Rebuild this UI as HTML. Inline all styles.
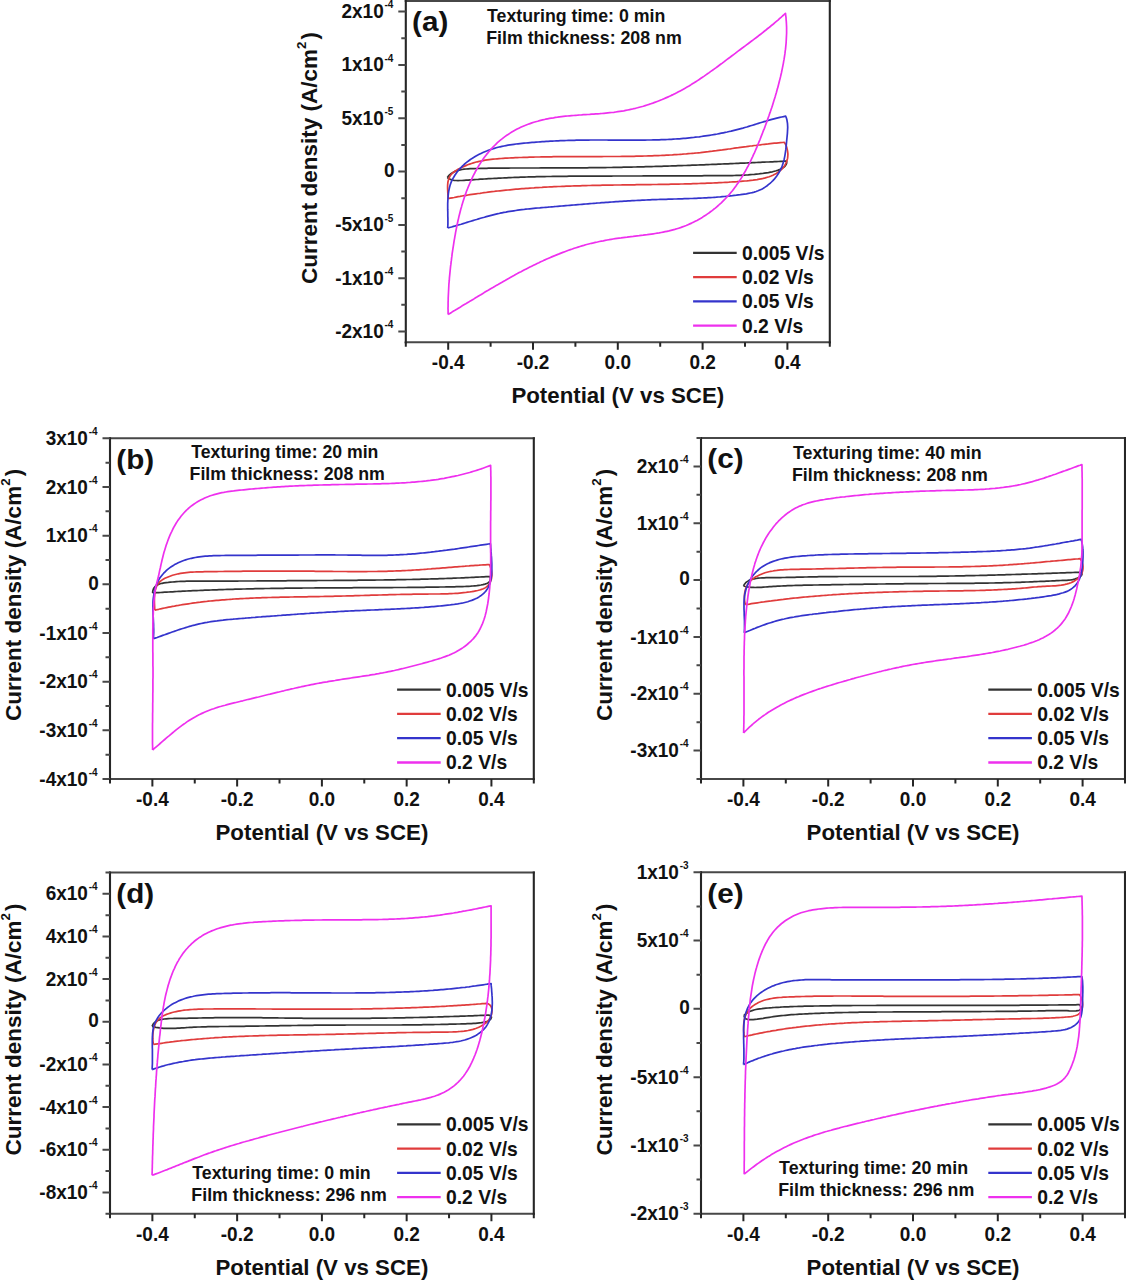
<!DOCTYPE html>
<html><head><meta charset="utf-8"><style>
html,body{margin:0;padding:0;background:#fff;}
svg{display:block;}
text{font-family:"Liberation Sans",sans-serif;font-weight:bold;}
</style></head><body>
<svg width="1126" height="1280" viewBox="0 0 1126 1280">
<rect width="1126" height="1280" fill="#fff"/>
<path d="M447.3 177.5L448.5 175.9L449.8 174.6L451.3 173.4L452.9 172.4L454.6 171.6L456.3 170.9L458.2 170.4L460.1 169.9L462.0 169.5L464.0 169.2L466.0 169.0L468.1 168.8L470.1 168.7L472.2 168.6L474.3 168.6L476.3 168.5L478.4 168.5L480.5 168.4L482.5 168.4L484.6 168.3L486.6 168.3L488.6 168.2L490.6 168.2L492.7 168.2L494.7 168.2L496.7 168.1L498.7 168.1L500.7 168.1L502.7 168.1L504.7 168.1L506.7 168.1L508.7 168.1L510.7 168.0L512.7 168.0L514.7 168.0L516.7 168.0L518.7 168.0L520.8 168.0L522.8 168.0L524.8 168.0L526.8 168.0L528.8 168.0L530.8 168.0L532.8 168.0L534.8 168.0L536.8 168.0L538.8 168.0L540.9 167.9L542.9 167.9L544.9 167.9L546.9 167.9L548.9 167.9L550.9 167.9L552.9 167.9L555.0 167.9L557.0 167.9L559.0 167.9L561.0 167.9L563.0 167.9L565.0 167.9L567.0 167.9L569.1 167.9L571.1 167.9L573.1 167.8L575.1 167.8L577.1 167.8L579.2 167.8L581.2 167.8L583.2 167.8L585.2 167.8L587.2 167.8L589.2 167.7L591.3 167.7L593.3 167.7L595.3 167.7L597.3 167.7L599.3 167.6L601.3 167.6L603.4 167.6L605.4 167.6L607.4 167.5L609.4 167.5L611.4 167.5L613.4 167.4L615.5 167.4L617.5 167.4L619.5 167.3L621.5 167.3L623.5 167.2L625.5 167.2L627.6 167.2L629.6 167.1L631.6 167.1L633.6 167.0L635.6 167.0L637.6 166.9L639.6 166.9L641.7 166.8L643.7 166.8L645.7 166.7L647.7 166.7L649.7 166.6L651.7 166.6L653.7 166.5L655.8 166.4L657.8 166.4L659.8 166.3L661.8 166.3L663.8 166.2L665.8 166.1L667.8 166.1L669.8 166.0L671.9 165.9L673.9 165.9L675.9 165.8L677.9 165.7L679.9 165.7L681.9 165.6L683.9 165.5L686.0 165.5L688.0 165.4L690.0 165.3L692.0 165.2L694.0 165.2L696.0 165.1L698.0 165.0L700.0 164.9L702.1 164.8L704.1 164.8L706.1 164.7L708.1 164.6L710.1 164.5L712.1 164.4L714.1 164.4L716.1 164.3L718.2 164.2L720.2 164.1L722.2 164.0L724.2 163.9L726.2 163.9L728.2 163.8L730.2 163.7L732.2 163.6L734.3 163.5L736.3 163.4L738.3 163.3L740.3 163.2L742.3 163.1L744.3 163.1L746.3 163.0L748.3 162.9L750.4 162.8L752.4 162.7L754.4 162.6L756.4 162.5L758.4 162.4L760.4 162.3L762.4 162.2L764.4 162.1L766.5 162.0L768.5 162.0L770.5 161.9L772.5 161.8L774.5 161.7L776.5 161.6L778.5 161.5L780.6 161.4L782.6 161.3L784.6 161.2L786.6 161.1L786.7 163.0L786.1 164.6L785.1 166.1L783.7 167.3L782.0 168.4L780.1 169.3L778.3 170.1L776.3 170.8L774.4 171.3L772.4 171.8L770.4 172.2L768.4 172.6L766.4 172.9L764.4 173.2L762.4 173.5L760.4 173.7L758.4 174.0L756.4 174.2L754.4 174.4L752.3 174.5L750.3 174.7L748.3 174.9L746.3 175.0L744.3 175.1L742.3 175.2L740.3 175.3L738.3 175.4L736.2 175.4L734.2 175.5L732.2 175.6L730.2 175.6L728.2 175.6L726.2 175.7L724.2 175.7L722.2 175.7L720.1 175.7L718.1 175.7L716.1 175.7L714.1 175.7L712.1 175.7L710.1 175.7L708.1 175.7L706.0 175.7L704.0 175.7L702.0 175.8L700.0 175.8L698.0 175.8L696.0 175.8L694.0 175.8L691.9 175.8L689.9 175.8L687.9 175.8L685.9 175.8L683.9 175.8L681.9 175.8L679.8 175.8L677.8 175.8L675.8 175.8L673.8 175.8L671.8 175.8L669.8 175.8L667.8 175.9L665.7 175.9L663.7 175.9L661.7 175.9L659.7 175.9L657.7 175.9L655.7 175.9L653.6 175.9L651.6 175.9L649.6 175.9L647.6 175.9L645.6 175.9L643.6 175.9L641.6 176.0L639.5 176.0L637.5 176.0L635.5 176.0L633.5 176.0L631.5 176.0L629.5 176.0L627.4 176.0L625.4 176.0L623.4 176.0L621.4 176.0L619.4 176.0L617.4 176.0L615.3 176.0L613.3 176.0L611.3 176.1L609.3 176.1L607.3 176.1L605.3 176.1L603.2 176.1L601.2 176.1L599.2 176.1L597.2 176.1L595.2 176.1L593.2 176.1L591.1 176.1L589.1 176.1L587.1 176.1L585.1 176.1L583.1 176.1L581.0 176.2L579.0 176.2L577.0 176.2L575.0 176.2L573.0 176.2L571.0 176.2L568.9 176.2L566.9 176.3L564.9 176.3L562.9 176.3L560.9 176.3L558.9 176.3L556.9 176.4L554.8 176.4L552.8 176.4L550.8 176.5L548.8 176.5L546.8 176.5L544.8 176.6L542.7 176.6L540.7 176.6L538.7 176.7L536.7 176.7L534.7 176.8L532.7 176.8L530.7 176.9L528.7 176.9L526.7 177.0L524.6 177.1L522.6 177.1L520.6 177.2L518.6 177.3L516.6 177.4L514.6 177.4L512.6 177.5L510.6 177.6L508.6 177.7L506.6 177.8L504.6 177.9L502.5 178.0L500.5 178.1L498.5 178.2L496.5 178.3L494.5 178.4L492.5 178.5L490.5 178.6L488.5 178.7L486.4 178.8L484.4 179.0L482.4 179.1L480.4 179.2L478.3 179.4L476.3 179.5L474.3 179.6L472.2 179.8L470.2 179.9L468.2 180.1L466.1 180.2L464.1 180.3L462.0 180.5L460.0 180.5L458.0 180.6L456.1 180.5L454.1 180.3L452.3 180.0L450.5 179.4L448.8 178.6L447.3 177.5" fill="none" stroke="#333333" stroke-width="1.7" stroke-linejoin="round"/>
<path d="M448.2 198.6L448.1 196.6L447.9 194.6L447.8 192.6L447.7 190.5L447.6 188.4L447.6 186.3L447.7 184.3L447.9 182.3L448.3 180.4L448.9 178.6L449.6 176.8L450.6 175.2L451.8 173.8L453.3 172.5L454.9 171.3L456.6 170.2L458.4 169.1L460.3 168.2L462.1 167.3L464.0 166.4L465.8 165.6L467.7 164.8L469.6 164.1L471.5 163.5L473.4 162.9L475.4 162.3L477.3 161.8L479.2 161.4L481.2 161.0L483.2 160.6L485.1 160.2L487.1 159.9L489.1 159.6L491.1 159.4L493.1 159.2L495.1 159.0L497.1 158.8L499.1 158.6L501.1 158.5L503.1 158.3L505.2 158.2L507.2 158.1L509.2 158.0L511.2 157.9L513.2 157.8L515.2 157.7L517.3 157.6L519.3 157.5L521.3 157.5L523.3 157.4L525.3 157.3L527.3 157.3L529.3 157.2L531.4 157.1L533.4 157.1L535.4 157.0L537.4 157.0L539.4 157.0L541.4 156.9L543.4 156.9L545.5 156.8L547.5 156.8L549.5 156.8L551.5 156.8L553.5 156.7L555.5 156.7L557.5 156.7L559.6 156.7L561.6 156.7L563.6 156.7L565.6 156.6L567.6 156.6L569.6 156.6L571.6 156.6L573.6 156.6L575.7 156.6L577.7 156.6L579.7 156.6L581.7 156.6L583.7 156.6L585.7 156.6L587.7 156.6L589.8 156.6L591.8 156.6L593.8 156.6L595.8 156.6L597.8 156.6L599.8 156.6L601.8 156.6L603.9 156.5L605.9 156.5L607.9 156.5L609.9 156.5L611.9 156.5L613.9 156.5L615.9 156.5L618.0 156.5L620.0 156.5L622.0 156.4L624.0 156.4L626.0 156.4L628.0 156.4L630.1 156.3L632.1 156.3L634.1 156.3L636.1 156.2L638.1 156.2L640.1 156.1L642.2 156.1L644.2 156.0L646.2 156.0L648.2 155.9L650.2 155.9L652.2 155.8L654.2 155.7L656.3 155.6L658.3 155.6L660.3 155.5L662.3 155.4L664.3 155.3L666.3 155.2L668.3 155.1L670.3 155.0L672.4 154.9L674.4 154.7L676.4 154.6L678.4 154.5L680.4 154.3L682.4 154.2L684.4 154.0L686.4 153.9L688.4 153.7L690.4 153.5L692.4 153.3L694.4 153.2L696.4 153.0L698.4 152.8L700.4 152.6L702.4 152.3L704.4 152.1L706.4 151.9L708.4 151.7L710.4 151.4L712.4 151.2L714.4 150.9L716.4 150.7L718.4 150.4L720.4 150.1L722.4 149.9L724.4 149.6L726.4 149.3L728.4 149.0L730.4 148.8L732.4 148.5L734.4 148.2L736.4 147.9L738.4 147.7L740.4 147.4L742.4 147.1L744.4 146.8L746.3 146.6L748.3 146.3L750.3 146.0L752.3 145.8L754.3 145.5L756.3 145.3L758.3 145.0L760.3 144.8L762.3 144.5L764.3 144.3L766.3 144.1L768.3 143.9L770.3 143.6L772.3 143.4L774.4 143.2L776.4 143.1L778.4 142.9L780.4 142.7L782.4 142.5L784.4 142.4L785.4 144.2L786.3 146.1L786.9 148.1L787.4 150.1L787.7 152.1L787.9 154.2L787.8 156.2L787.6 158.2L787.1 160.1L786.5 162.0L785.7 163.7L784.8 165.4L783.7 167.0L782.5 168.5L781.1 169.9L779.6 171.1L778.1 172.3L776.4 173.4L774.7 174.3L772.9 175.2L771.1 176.0L769.2 176.7L767.3 177.3L765.3 177.9L763.3 178.4L761.2 178.8L759.2 179.2L757.1 179.6L755.0 179.9L753.0 180.2L751.0 180.4L748.9 180.7L746.9 180.9L744.9 181.0L742.9 181.2L740.9 181.4L738.9 181.5L736.9 181.7L734.9 181.8L732.9 181.9L730.9 182.0L728.9 182.2L727.0 182.3L725.0 182.4L723.0 182.5L721.0 182.6L719.0 182.7L717.0 182.8L715.0 182.9L713.0 183.0L711.0 183.1L709.0 183.1L707.0 183.2L705.0 183.3L703.0 183.4L701.0 183.4L698.9 183.5L696.9 183.6L694.9 183.6L692.9 183.7L690.9 183.8L688.9 183.8L686.9 183.9L684.9 183.9L682.9 184.0L680.9 184.0L678.9 184.1L676.8 184.1L674.8 184.2L672.8 184.2L670.8 184.2L668.8 184.3L666.8 184.3L664.8 184.3L662.8 184.4L660.7 184.4L658.7 184.4L656.7 184.5L654.7 184.5L652.7 184.5L650.7 184.6L648.7 184.6L646.6 184.6L644.6 184.6L642.6 184.7L640.6 184.7L638.6 184.7L636.6 184.7L634.6 184.8L632.5 184.8L630.5 184.8L628.5 184.9L626.5 184.9L624.5 184.9L622.5 184.9L620.4 185.0L618.4 185.0L616.4 185.0L614.4 185.0L612.4 185.1L610.4 185.1L608.4 185.1L606.3 185.2L604.3 185.2L602.3 185.2L600.3 185.3L598.3 185.3L596.3 185.4L594.3 185.4L592.2 185.4L590.2 185.5L588.2 185.5L586.2 185.6L584.2 185.6L582.2 185.7L580.2 185.8L578.2 185.8L576.1 185.9L574.1 185.9L572.1 186.0L570.1 186.1L568.1 186.1L566.1 186.2L564.1 186.3L562.1 186.4L560.1 186.5L558.0 186.5L556.0 186.6L554.0 186.7L552.0 186.8L550.0 186.9L548.0 187.0L546.0 187.1L544.0 187.2L542.0 187.4L540.0 187.5L538.0 187.6L536.0 187.7L534.0 187.9L532.0 188.0L529.9 188.1L527.9 188.3L525.9 188.4L523.9 188.6L521.9 188.7L519.9 188.9L517.9 189.1L515.9 189.2L513.9 189.4L511.9 189.6L509.9 189.8L507.9 190.0L505.9 190.2L503.9 190.4L501.9 190.6L499.9 190.8L497.9 191.0L495.9 191.2L493.9 191.5L491.9 191.7L490.0 191.9L488.0 192.2L486.0 192.5L484.0 192.7L482.0 193.0L480.0 193.3L478.0 193.5L476.0 193.8L474.0 194.1L472.0 194.4L470.0 194.7L468.0 195.0L466.1 195.4L464.1 195.7L462.1 196.0L460.1 196.4L458.1 196.7L456.1 197.1L454.1 197.5L452.2 197.8L450.2 198.2L448.2 198.6" fill="none" stroke="#e03c3c" stroke-width="1.7" stroke-linejoin="round"/>
<path d="M447.7 228.0L447.8 226.1L447.9 224.1L447.9 222.1L447.9 220.1L447.9 218.1L447.8 216.1L447.8 214.0L447.8 211.9L447.7 209.9L447.7 207.8L447.7 205.7L447.7 203.6L447.8 201.6L447.9 199.5L448.0 197.5L448.2 195.4L448.4 193.4L448.7 191.4L449.1 189.4L449.5 187.5L450.0 185.6L450.6 183.7L451.3 181.9L452.1 180.1L453.0 178.4L454.0 176.7L455.0 175.0L456.1 173.4L457.3 171.8L458.5 170.3L459.8 168.8L461.2 167.3L462.6 165.9L464.1 164.5L465.6 163.2L467.2 161.9L468.8 160.7L470.4 159.5L472.1 158.4L473.9 157.3L475.6 156.2L477.4 155.2L479.2 154.3L481.0 153.4L482.9 152.5L484.8 151.7L486.6 151.0L488.5 150.2L490.4 149.6L492.3 149.0L494.3 148.4L496.2 147.8L498.1 147.3L500.1 146.8L502.0 146.4L504.0 146.0L506.0 145.6L508.0 145.2L510.0 144.9L512.0 144.6L514.0 144.3L516.0 144.0L518.0 143.8L520.0 143.6L522.0 143.4L524.0 143.2L526.0 143.0L528.1 142.8L530.1 142.6L532.1 142.4L534.1 142.3L536.1 142.1L538.2 142.0L540.2 141.8L542.2 141.7L544.2 141.6L546.2 141.4L548.2 141.3L550.2 141.2L552.2 141.1L554.3 141.0L556.3 140.9L558.3 140.8L560.3 140.7L562.3 140.6L564.3 140.6L566.3 140.5L568.3 140.4L570.4 140.4L572.4 140.3L574.4 140.3L576.4 140.2L578.4 140.2L580.4 140.1L582.4 140.1L584.5 140.1L586.5 140.1L588.5 140.1L590.5 140.0L592.5 140.0L594.5 140.0L596.6 140.0L598.6 140.0L600.6 140.0L602.6 140.0L604.6 140.0L606.7 140.0L608.7 140.1L610.7 140.1L612.7 140.1L614.8 140.1L616.8 140.1L618.8 140.1L620.8 140.1L622.8 140.1L624.9 140.1L626.9 140.1L628.9 140.1L630.9 140.1L633.0 140.1L635.0 140.1L637.0 140.1L639.0 140.1L641.0 140.1L643.1 140.1L645.1 140.1L647.1 140.0L649.1 140.0L651.1 140.0L653.2 139.9L655.2 139.9L657.2 139.8L659.2 139.8L661.2 139.7L663.3 139.6L665.3 139.6L667.3 139.5L669.3 139.4L671.3 139.3L673.3 139.1L675.3 139.0L677.3 138.9L679.4 138.8L681.4 138.6L683.4 138.4L685.4 138.3L687.4 138.1L689.4 137.9L691.4 137.7L693.4 137.5L695.4 137.2L697.4 137.0L699.4 136.8L701.4 136.5L703.4 136.2L705.4 135.9L707.4 135.6L709.4 135.3L711.4 135.0L713.4 134.7L715.3 134.3L717.3 134.0L719.3 133.6L721.3 133.2L723.3 132.8L725.2 132.4L727.2 132.0L729.2 131.5L731.2 131.1L733.1 130.6L735.1 130.1L737.0 129.6L739.0 129.1L740.9 128.6L742.9 128.1L744.8 127.5L746.8 127.0L748.7 126.4L750.6 125.8L752.6 125.2L754.5 124.6L756.4 124.0L758.4 123.4L760.3 122.8L762.2 122.2L764.2 121.6L766.1 121.1L768.1 120.5L770.0 119.9L771.9 119.4L773.9 118.9L775.8 118.4L777.8 117.9L779.8 117.4L781.7 117.0L783.7 116.6L785.7 116.2L786.4 118.0L786.9 119.8L787.2 121.6L787.5 123.5L787.6 125.4L787.7 127.4L787.6 129.4L787.5 131.4L787.4 133.4L787.2 135.4L787.0 137.5L786.8 139.5L786.6 141.5L786.4 143.6L786.2 145.6L786.0 147.6L785.8 149.7L785.5 151.7L785.2 153.7L784.9 155.6L784.5 157.6L784.1 159.5L783.6 161.5L783.0 163.4L782.4 165.2L781.7 167.1L780.9 168.9L780.0 170.7L779.0 172.5L777.9 174.2L776.8 175.9L775.6 177.5L774.3 179.1L772.9 180.6L771.5 182.0L770.0 183.4L768.4 184.7L766.8 186.0L765.1 187.1L763.4 188.2L761.7 189.2L759.8 190.0L758.0 190.8L756.1 191.5L754.2 192.1L752.3 192.6L750.3 193.0L748.4 193.4L746.4 193.8L744.4 194.1L742.4 194.4L740.4 194.7L738.4 194.9L736.4 195.2L734.4 195.4L732.4 195.7L730.4 195.9L728.4 196.1L726.4 196.3L724.4 196.5L722.4 196.7L720.4 196.9L718.4 197.0L716.4 197.2L714.4 197.3L712.4 197.5L710.4 197.6L708.4 197.7L706.4 197.8L704.4 197.9L702.4 198.0L700.4 198.1L698.4 198.2L696.3 198.3L694.3 198.4L692.3 198.5L690.3 198.5L688.3 198.6L686.3 198.7L684.3 198.7L682.3 198.8L680.3 198.8L678.2 198.9L676.2 199.0L674.2 199.0L672.2 199.1L670.2 199.1L668.2 199.2L666.2 199.3L664.2 199.3L662.2 199.4L660.1 199.4L658.1 199.5L656.1 199.6L654.1 199.7L652.1 199.7L650.1 199.8L648.1 199.9L646.1 200.0L644.1 200.1L642.1 200.2L640.0 200.3L638.0 200.4L636.0 200.5L634.0 200.6L632.0 200.7L630.0 200.8L628.0 200.9L626.0 201.1L624.0 201.2L622.0 201.3L620.0 201.4L618.0 201.6L616.0 201.7L613.9 201.8L611.9 202.0L609.9 202.1L607.9 202.3L605.9 202.4L603.9 202.6L601.9 202.7L599.9 202.9L597.9 203.0L595.9 203.2L593.9 203.3L591.9 203.5L589.9 203.6L587.9 203.8L585.9 204.0L583.9 204.1L581.9 204.3L579.9 204.5L577.9 204.6L575.8 204.8L573.8 205.0L571.8 205.1L569.8 205.3L567.8 205.5L565.8 205.6L563.8 205.8L561.8 206.0L559.8 206.1L557.8 206.3L555.8 206.5L553.8 206.7L551.8 206.8L549.8 207.0L547.8 207.2L545.8 207.3L543.8 207.5L541.8 207.7L539.8 207.9L537.8 208.0L535.8 208.2L533.7 208.4L531.7 208.6L529.7 208.8L527.7 209.0L525.8 209.2L523.8 209.5L521.8 209.7L519.8 209.9L517.8 210.2L515.8 210.5L513.8 210.8L511.8 211.1L509.8 211.4L507.9 211.7L505.9 212.1L503.9 212.4L501.9 212.8L500.0 213.2L498.0 213.7L496.1 214.1L494.1 214.6L492.2 215.1L490.2 215.6L488.3 216.1L486.3 216.6L484.4 217.2L482.4 217.7L480.5 218.3L478.6 218.9L476.6 219.5L474.7 220.0L472.8 220.6L470.8 221.2L468.9 221.8L467.0 222.4L465.1 223.0L463.1 223.6L461.2 224.2L459.3 224.7L457.3 225.3L455.4 225.9L453.5 226.4L451.6 227.0L449.6 227.5L447.7 228.0" fill="none" stroke="#3434cc" stroke-width="1.7" stroke-linejoin="round"/>
<path d="M448.1 314.4L448.1 312.4L448.1 310.4L448.0 308.3L448.1 306.3L448.1 304.3L448.1 302.3L448.2 300.3L448.2 298.3L448.3 296.3L448.4 294.2L448.5 292.2L448.6 290.2L448.7 288.2L448.8 286.2L448.9 284.2L449.1 282.2L449.3 280.2L449.4 278.2L449.6 276.2L449.8 274.2L450.0 272.2L450.2 270.2L450.4 268.2L450.6 266.2L450.9 264.2L451.1 262.2L451.4 260.2L451.6 258.2L451.9 256.2L452.1 254.2L452.4 252.2L452.7 250.2L453.0 248.2L453.3 246.3L453.6 244.3L453.9 242.3L454.2 240.3L454.6 238.3L454.9 236.3L455.3 234.3L455.6 232.4L456.0 230.4L456.4 228.4L456.8 226.4L457.2 224.5L457.6 222.5L458.0 220.5L458.5 218.6L458.9 216.6L459.4 214.7L459.9 212.7L460.4 210.8L460.9 208.8L461.5 206.9L462.0 204.9L462.6 203.0L463.2 201.1L463.8 199.2L464.4 197.3L465.1 195.3L465.8 193.4L466.4 191.5L467.2 189.7L467.9 187.8L468.7 185.9L469.5 184.0L470.3 182.2L471.1 180.3L472.0 178.5L472.8 176.6L473.7 174.8L474.7 173.0L475.6 171.2L476.6 169.5L477.6 167.7L478.6 166.0L479.7 164.3L480.8 162.6L481.9 160.9L483.0 159.2L484.2 157.6L485.4 156.0L486.6 154.4L487.9 152.9L489.1 151.3L490.5 149.8L491.8 148.3L493.2 146.9L494.6 145.5L496.0 144.1L497.4 142.7L498.9 141.4L500.4 140.1L502.0 138.9L503.6 137.6L505.2 136.4L506.8 135.3L508.5 134.2L510.1 133.1L511.8 132.0L513.6 131.0L515.3 130.1L517.1 129.1L518.9 128.2L520.7 127.3L522.5 126.5L524.4 125.7L526.2 125.0L528.1 124.3L530.0 123.6L531.9 122.9L533.8 122.3L535.7 121.7L537.7 121.2L539.6 120.6L541.6 120.1L543.6 119.7L545.5 119.2L547.5 118.8L549.5 118.4L551.5 118.1L553.5 117.8L555.5 117.4L557.5 117.2L559.5 116.9L561.5 116.6L563.5 116.4L565.5 116.2L567.5 116.0L569.5 115.8L571.5 115.6L573.6 115.5L575.6 115.3L577.6 115.2L579.6 115.0L581.6 114.9L583.7 114.7L585.7 114.6L587.7 114.5L589.7 114.4L591.7 114.2L593.8 114.1L595.8 113.9L597.8 113.8L599.8 113.7L601.8 113.5L603.8 113.3L605.8 113.1L607.8 112.9L609.8 112.7L611.8 112.5L613.8 112.3L615.8 112.0L617.8 111.7L619.8 111.4L621.8 111.1L623.8 110.8L625.7 110.4L627.7 110.0L629.7 109.6L631.6 109.2L633.6 108.7L635.5 108.3L637.5 107.8L639.4 107.2L641.3 106.7L643.3 106.2L645.2 105.6L647.1 105.0L649.0 104.4L650.9 103.7L652.8 103.1L654.7 102.4L656.5 101.7L658.4 101.0L660.3 100.2L662.1 99.5L664.0 98.7L665.8 97.9L667.7 97.1L669.5 96.3L671.3 95.4L673.1 94.6L674.9 93.7L676.7 92.8L678.5 91.8L680.2 90.9L682.0 89.9L683.8 88.9L685.5 88.0L687.2 86.9L689.0 85.9L690.7 84.9L692.4 83.8L694.1 82.8L695.8 81.7L697.5 80.6L699.2 79.5L700.9 78.3L702.5 77.2L704.2 76.1L705.9 74.9L707.5 73.8L709.2 72.6L710.8 71.4L712.5 70.3L714.1 69.1L715.8 67.9L717.4 66.7L719.0 65.5L720.6 64.3L722.3 63.1L723.9 61.9L725.5 60.6L727.1 59.4L728.7 58.2L730.4 57.0L732.0 55.8L733.6 54.6L735.2 53.4L736.8 52.1L738.4 50.9L740.0 49.7L741.6 48.5L743.3 47.3L744.9 46.1L746.5 44.9L748.1 43.7L749.7 42.5L751.3 41.3L752.9 40.1L754.5 38.9L756.1 37.7L757.7 36.5L759.3 35.2L760.9 34.0L762.4 32.8L764.0 31.5L765.6 30.3L767.1 29.0L768.7 27.8L770.3 26.5L771.8 25.2L773.4 24.0L774.9 22.7L776.4 21.4L778.0 20.1L779.5 18.7L781.0 17.4L782.5 16.0L784.0 14.7L785.5 13.3L785.7 15.3L786.0 17.3L786.1 19.3L786.3 21.3L786.4 23.2L786.5 25.2L786.6 27.2L786.6 29.2L786.6 31.2L786.6 33.2L786.5 35.2L786.4 37.2L786.3 39.2L786.2 41.2L786.1 43.2L785.9 45.2L785.7 47.2L785.5 49.2L785.2 51.2L785.0 53.2L784.7 55.2L784.4 57.2L784.1 59.2L783.7 61.2L783.4 63.1L783.0 65.1L782.6 67.1L782.2 69.1L781.8 71.0L781.4 73.0L780.9 75.0L780.5 76.9L780.0 78.9L779.5 80.8L779.0 82.8L778.5 84.7L778.0 86.7L777.5 88.6L776.9 90.5L776.4 92.5L775.8 94.4L775.3 96.3L774.7 98.2L774.1 100.1L773.5 102.0L772.9 103.9L772.3 105.9L771.7 107.8L771.0 109.7L770.4 111.6L769.7 113.4L769.1 115.3L768.4 117.2L767.7 119.1L767.1 121.0L766.4 122.9L765.7 124.8L765.0 126.7L764.3 128.6L763.5 130.4L762.8 132.3L762.1 134.2L761.3 136.1L760.6 138.0L759.9 139.8L759.1 141.7L758.3 143.6L757.6 145.5L756.8 147.3L756.0 149.2L755.2 151.0L754.4 152.9L753.5 154.7L752.7 156.6L751.8 158.4L751.0 160.2L750.1 162.1L749.2 163.9L748.3 165.7L747.3 167.4L746.4 169.2L745.4 171.0L744.4 172.7L743.4 174.5L742.4 176.2L741.4 177.9L740.3 179.6L739.2 181.3L738.1 182.9L736.9 184.6L735.8 186.2L734.6 187.8L733.4 189.4L732.2 191.0L730.9 192.5L729.6 194.1L728.3 195.6L726.9 197.0L725.6 198.5L724.2 199.9L722.7 201.4L721.3 202.8L719.8 204.1L718.3 205.5L716.8 206.8L715.3 208.1L713.7 209.3L712.1 210.6L710.5 211.8L708.9 213.0L707.2 214.1L705.6 215.2L703.9 216.3L702.2 217.4L700.5 218.4L698.7 219.4L697.0 220.4L695.2 221.3L693.4 222.2L691.6 223.1L689.8 223.9L688.0 224.7L686.2 225.5L684.3 226.2L682.4 226.9L680.5 227.6L678.7 228.2L676.8 228.8L674.8 229.4L672.9 229.9L671.0 230.4L669.0 230.9L667.1 231.3L665.1 231.7L663.2 232.1L661.2 232.5L659.2 232.9L657.2 233.2L655.2 233.5L653.3 233.8L651.3 234.1L649.3 234.4L647.2 234.7L645.2 234.9L643.2 235.2L641.2 235.4L639.2 235.7L637.2 235.9L635.2 236.1L633.2 236.4L631.1 236.6L629.1 236.8L627.1 237.1L625.1 237.3L623.1 237.6L621.1 237.9L619.1 238.1L617.1 238.4L615.1 238.7L613.1 239.0L611.2 239.3L609.2 239.7L607.2 240.0L605.2 240.4L603.3 240.8L601.3 241.1L599.4 241.5L597.4 242.0L595.4 242.4L593.5 242.9L591.5 243.3L589.6 243.8L587.7 244.3L585.7 244.8L583.8 245.4L581.9 245.9L580.0 246.5L578.0 247.1L576.1 247.7L574.2 248.3L572.3 249.0L570.4 249.6L568.5 250.3L566.6 251.0L564.8 251.7L562.9 252.4L561.0 253.1L559.1 253.9L557.3 254.6L555.4 255.4L553.6 256.1L551.7 256.9L549.9 257.7L548.0 258.5L546.2 259.3L544.4 260.1L542.6 261.0L540.7 261.8L538.9 262.7L537.1 263.5L535.3 264.4L533.5 265.3L531.7 266.2L529.9 267.1L528.1 268.0L526.3 268.9L524.5 269.8L522.7 270.8L521.0 271.7L519.2 272.6L517.4 273.6L515.6 274.5L513.9 275.5L512.1 276.5L510.3 277.5L508.6 278.4L506.8 279.4L505.1 280.4L503.3 281.4L501.6 282.4L499.8 283.4L498.1 284.4L496.3 285.4L494.6 286.5L492.9 287.5L491.1 288.5L489.4 289.5L487.7 290.6L485.9 291.6L484.2 292.6L482.5 293.7L480.8 294.7L479.0 295.7L477.3 296.8L475.6 297.8L473.9 298.9L472.1 299.9L470.4 300.9L468.7 302.0L467.0 303.0L465.3 304.1L463.5 305.1L461.8 306.1L460.1 307.2L458.4 308.2L456.7 309.3L455.0 310.3L453.2 311.3L451.5 312.4L449.8 313.4L448.1 314.4" fill="none" stroke="#ee30ee" stroke-width="1.7" stroke-linejoin="round"/>
<path d="M404.70 0.9H830.90M404.70 342.2H830.90" stroke="#474747" stroke-width="2" fill="none"/>
<path d="M405.8 -0.09999999999999998V343.2M829.8 -0.09999999999999998V343.2" stroke="#262626" stroke-width="2.1" fill="none"/>
<path d="M398.30 11.57H405.8M398.30 64.89H405.8M398.30 118.22H405.8M398.30 171.55H405.8M398.30 224.88H405.8M398.30 278.21H405.8M398.30 331.53H405.8M401.30 38.23H405.8M401.30 91.56H405.8M401.30 144.89H405.8M401.30 198.21H405.8M401.30 251.54H405.8M401.30 304.87H405.8" stroke="#474747" stroke-width="2" fill="none"/>
<path d="M448.20 342.2V349.70M533.00 342.2V349.70M617.80 342.2V349.70M702.60 342.2V349.70M787.40 342.2V349.70M405.80 342.2V346.70M490.60 342.2V346.70M575.40 342.2V346.70M660.20 342.2V346.70M745.00 342.2V346.70M829.80 342.2V346.70" stroke="#262626" stroke-width="2" fill="none"/>
<text transform="translate(393.40,18.17) scale(1,1.04)" font-size="19" text-anchor="end" fill="#111">2x10<tspan font-size="10" dy="-9.6" dx="0.8">-4</tspan></text>
<text transform="translate(393.40,71.49) scale(1,1.04)" font-size="19" text-anchor="end" fill="#111">1x10<tspan font-size="10" dy="-9.6" dx="0.8">-4</tspan></text>
<text transform="translate(393.40,124.82) scale(1,1.04)" font-size="19" text-anchor="end" fill="#111">5x10<tspan font-size="10" dy="-9.6" dx="0.8">-5</tspan></text>
<text transform="translate(394.50,176.75) scale(1,1.04)" font-size="19" text-anchor="end" fill="#111">0</text>
<text transform="translate(393.40,231.48) scale(1,1.04)" font-size="19" text-anchor="end" fill="#111">-5x10<tspan font-size="10" dy="-9.6" dx="0.8">-5</tspan></text>
<text transform="translate(393.40,284.81) scale(1,1.04)" font-size="19" text-anchor="end" fill="#111">-1x10<tspan font-size="10" dy="-9.6" dx="0.8">-4</tspan></text>
<text transform="translate(393.40,338.13) scale(1,1.04)" font-size="19" text-anchor="end" fill="#111">-2x10<tspan font-size="10" dy="-9.6" dx="0.8">-4</tspan></text>
<text transform="translate(448.20,369.00) scale(1,1.04)" font-size="19" text-anchor="middle" fill="#111">-0.4</text>
<text transform="translate(533.00,369.00) scale(1,1.04)" font-size="19" text-anchor="middle" fill="#111">-0.2</text>
<text transform="translate(617.80,369.00) scale(1,1.04)" font-size="19" text-anchor="middle" fill="#111">0.0</text>
<text transform="translate(702.60,369.00) scale(1,1.04)" font-size="19" text-anchor="middle" fill="#111">0.2</text>
<text transform="translate(787.40,369.00) scale(1,1.04)" font-size="19" text-anchor="middle" fill="#111">0.4</text>
<text transform="translate(617.80,403.20) scale(0.99,1)" font-size="22.5" text-anchor="middle" fill="#111">Potential (V vs SCE)</text>
<text transform="translate(316.60,284.10) rotate(-90)" font-size="22.5" fill="#111">Current density (A/cm<tspan font-size="13.3" dy="-10.7">2</tspan><tspan dy="10.7" dx="2.2">)</tspan></text>
<text transform="translate(412.10,31.10) scale(1.04,1)" font-size="28.5" fill="#111">(a)</text>
<text transform="translate(487.02,21.50) scale(0.9868,1)" font-size="18" fill="#111">Texturing time: 0 min</text>
<text transform="translate(486.24,43.60) scale(0.9875,1)" font-size="18" fill="#111">Film thickness: 208 nm</text>
<line x1="693.10" y1="252.80" x2="736.70" y2="252.80" stroke="#333333" stroke-width="2.3"/>
<text x="742.00" y="259.70" font-size="19.3" fill="#111">0.005 V/s</text>
<line x1="693.10" y1="277.10" x2="736.70" y2="277.10" stroke="#e03c3c" stroke-width="2.3"/>
<text x="742.00" y="284.00" font-size="19.3" fill="#111">0.02 V/s</text>
<line x1="693.10" y1="301.40" x2="736.70" y2="301.40" stroke="#3434cc" stroke-width="2.3"/>
<text x="742.00" y="308.30" font-size="19.3" fill="#111">0.05 V/s</text>
<line x1="693.10" y1="325.70" x2="736.70" y2="325.70" stroke="#ee30ee" stroke-width="2.3"/>
<text x="742.00" y="332.60" font-size="19.3" fill="#111">0.2 V/s</text>
<path d="M152.6 593.0L152.8 590.9L153.4 589.0L154.3 587.5L155.4 586.3L156.8 585.3L158.4 584.4L160.2 583.8L162.1 583.3L164.1 582.9L166.2 582.6L168.3 582.4L170.3 582.1L172.4 582.0L174.4 581.8L176.5 581.6L178.5 581.5L180.6 581.4L182.6 581.4L184.7 581.3L186.7 581.2L188.7 581.2L190.7 581.2L192.8 581.2L194.8 581.2L196.8 581.2L198.9 581.2L200.9 581.2L202.9 581.2L204.9 581.2L206.9 581.2L209.0 581.2L211.0 581.1L213.0 581.1L215.0 581.1L217.1 581.1L219.1 581.1L221.1 581.1L223.1 581.1L225.2 581.1L227.2 581.1L229.2 581.1L231.2 581.1L233.2 581.1L235.3 581.1L237.3 581.1L239.3 581.0L241.3 581.0L243.4 581.0L245.4 581.0L247.4 581.0L249.4 581.0L251.4 581.0L253.5 581.0L255.5 581.0L257.5 580.9L259.5 580.9L261.6 580.9L263.6 580.9L265.6 580.9L267.6 580.9L269.6 580.9L271.7 580.9L273.7 580.8L275.7 580.8L277.7 580.8L279.7 580.8L281.8 580.8L283.8 580.8L285.8 580.8L287.8 580.7L289.8 580.7L291.9 580.7L293.9 580.7L295.9 580.7L297.9 580.7L300.0 580.7L302.0 580.7L304.0 580.6L306.0 580.6L308.0 580.6L310.1 580.6L312.1 580.6L314.1 580.6L316.1 580.6L318.1 580.5L320.2 580.5L322.2 580.5L324.2 580.5L326.2 580.5L328.3 580.5L330.3 580.5L332.3 580.5L334.3 580.4L336.3 580.4L338.4 580.4L340.4 580.4L342.4 580.4L344.4 580.4L346.5 580.4L348.5 580.3L350.5 580.3L352.5 580.3L354.6 580.3L356.6 580.3L358.6 580.2L360.6 580.2L362.6 580.2L364.7 580.2L366.7 580.2L368.7 580.1L370.7 580.1L372.8 580.1L374.8 580.1L376.8 580.0L378.8 580.0L380.8 580.0L382.9 580.0L384.9 579.9L386.9 579.9L388.9 579.9L391.0 579.8L393.0 579.8L395.0 579.8L397.0 579.7L399.1 579.7L401.1 579.7L403.1 579.6L405.1 579.6L407.1 579.5L409.2 579.5L411.2 579.5L413.2 579.4L415.2 579.4L417.3 579.3L419.3 579.3L421.3 579.2L423.3 579.2L425.3 579.1L427.4 579.1L429.4 579.0L431.4 578.9L433.4 578.9L435.5 578.8L437.5 578.8L439.5 578.7L441.5 578.6L443.5 578.6L445.6 578.5L447.6 578.4L449.6 578.4L451.6 578.3L453.6 578.2L455.7 578.1L457.7 578.0L459.7 578.0L461.7 577.9L463.7 577.8L465.8 577.7L467.8 577.6L469.8 577.5L471.8 577.4L473.8 577.3L475.9 577.2L477.9 577.1L479.9 577.0L481.9 576.9L483.9 576.8L486.0 576.7L488.0 576.6L490.0 576.5L490.4 578.6L490.2 580.3L489.5 581.6L488.3 582.7L486.7 583.5L484.9 584.1L482.9 584.6L480.9 585.0L478.9 585.3L476.8 585.6L474.8 585.8L472.7 586.0L470.7 586.2L468.7 586.3L466.6 586.4L464.6 586.5L462.5 586.6L460.5 586.6L458.4 586.7L456.4 586.7L454.4 586.8L452.3 586.8L450.3 586.9L448.3 586.9L446.3 586.9L444.2 587.0L442.2 587.0L440.2 587.0L438.2 587.1L436.2 587.1L434.2 587.1L432.2 587.2L430.2 587.2L428.2 587.2L426.2 587.2L424.1 587.3L422.1 587.3L420.1 587.3L418.1 587.3L416.1 587.4L414.1 587.4L412.1 587.4L410.1 587.4L408.1 587.4L406.1 587.5L404.1 587.5L402.1 587.5L400.1 587.5L398.1 587.5L396.1 587.5L394.0 587.5L392.0 587.6L390.0 587.6L388.0 587.6L386.0 587.6L384.0 587.6L382.0 587.6L380.0 587.6L378.0 587.6L375.9 587.7L373.9 587.7L371.9 587.7L369.9 587.7L367.9 587.7L365.9 587.7L363.9 587.7L361.8 587.7L359.8 587.7L357.8 587.7L355.8 587.7L353.8 587.7L351.8 587.8L349.8 587.8L347.7 587.8L345.7 587.8L343.7 587.8L341.7 587.8L339.7 587.8L337.7 587.8L335.7 587.8L333.6 587.8L331.6 587.8L329.6 587.9L327.6 587.9L325.6 587.9L323.6 587.9L321.6 587.9L319.5 587.9L317.5 587.9L315.5 587.9L313.5 588.0L311.5 588.0L309.5 588.0L307.5 588.0L305.4 588.0L303.4 588.0L301.4 588.1L299.4 588.1L297.4 588.1L295.4 588.1L293.4 588.1L291.3 588.2L289.3 588.2L287.3 588.2L285.3 588.2L283.3 588.3L281.3 588.3L279.3 588.3L277.3 588.3L275.2 588.4L273.2 588.4L271.2 588.4L269.2 588.5L267.2 588.5L265.2 588.5L263.2 588.6L261.2 588.6L259.1 588.7L257.1 588.7L255.1 588.7L253.1 588.8L251.1 588.8L249.1 588.9L247.1 588.9L245.1 589.0L243.0 589.0L241.0 589.1L239.0 589.1L237.0 589.2L235.0 589.2L233.0 589.3L231.0 589.3L229.0 589.4L227.0 589.4L224.9 589.5L222.9 589.6L220.9 589.6L218.9 589.7L216.9 589.8L214.9 589.8L212.9 589.9L210.9 590.0L208.9 590.1L206.9 590.1L204.8 590.2L202.8 590.3L200.8 590.4L198.8 590.5L196.8 590.6L194.8 590.6L192.8 590.7L190.8 590.8L188.8 590.9L186.8 591.0L184.7 591.1L182.7 591.2L180.7 591.3L178.7 591.4L176.7 591.5L174.7 591.6L172.7 591.8L170.7 591.9L168.7 592.0L166.7 592.1L164.7 592.2L162.6 592.3L160.6 592.5L158.6 592.6L156.6 592.7L154.6 592.9L152.6 593.0" fill="none" stroke="#333333" stroke-width="1.7" stroke-linejoin="round"/>
<path d="M154.8 610.2L154.7 608.3L154.6 606.3L154.5 604.2L154.4 602.1L154.4 600.0L154.4 597.9L154.5 595.8L154.7 593.7L154.9 591.7L155.4 589.7L155.9 587.9L156.7 586.1L157.6 584.5L158.7 583.0L160.0 581.6L161.5 580.4L163.2 579.3L164.9 578.3L166.8 577.5L168.7 576.7L170.6 576.0L172.5 575.3L174.5 574.8L176.5 574.3L178.4 573.8L180.4 573.4L182.4 573.1L184.4 572.8L186.4 572.6L188.4 572.4L190.4 572.2L192.4 572.1L194.5 572.0L196.5 571.9L198.5 571.8L200.5 571.8L202.6 571.8L204.6 571.7L206.6 571.7L208.6 571.7L210.7 571.6L212.7 571.6L214.7 571.6L216.8 571.6L218.8 571.5L220.8 571.5L222.8 571.5L224.9 571.4L226.9 571.4L228.9 571.4L230.9 571.4L232.9 571.3L235.0 571.3L237.0 571.3L239.0 571.3L241.0 571.3L243.1 571.2L245.1 571.2L247.1 571.2L249.1 571.2L251.1 571.2L253.2 571.2L255.2 571.1L257.2 571.1L259.2 571.1L261.2 571.1L263.2 571.1L265.3 571.1L267.3 571.1L269.3 571.1L271.3 571.1L273.3 571.1L275.4 571.1L277.4 571.1L279.4 571.1L281.4 571.1L283.4 571.1L285.4 571.1L287.5 571.1L289.5 571.1L291.5 571.1L293.5 571.1L295.5 571.1L297.6 571.1L299.6 571.1L301.6 571.1L303.6 571.1L305.6 571.2L307.7 571.2L309.7 571.2L311.7 571.2L313.7 571.2L315.7 571.3L317.8 571.3L319.8 571.3L321.8 571.3L323.8 571.3L325.8 571.4L327.9 571.4L329.9 571.4L331.9 571.4L333.9 571.5L336.0 571.5L338.0 571.5L340.0 571.5L342.0 571.5L344.0 571.5L346.1 571.5L348.1 571.6L350.1 571.6L352.1 571.6L354.2 571.6L356.2 571.6L358.2 571.6L360.2 571.6L362.2 571.6L364.3 571.6L366.3 571.6L368.3 571.5L370.3 571.5L372.4 571.5L374.4 571.5L376.4 571.5L378.4 571.4L380.4 571.4L382.5 571.3L384.5 571.3L386.5 571.3L388.5 571.2L390.5 571.1L392.6 571.1L394.6 571.0L396.6 570.9L398.6 570.9L400.6 570.8L402.6 570.7L404.7 570.6L406.7 570.5L408.7 570.4L410.7 570.3L412.7 570.1L414.7 570.0L416.8 569.9L418.8 569.8L420.8 569.6L422.8 569.5L424.8 569.3L426.8 569.2L428.8 569.0L430.9 568.9L432.9 568.7L434.9 568.6L436.9 568.4L438.9 568.3L440.9 568.1L442.9 567.9L444.9 567.8L447.0 567.6L449.0 567.4L451.0 567.3L453.0 567.1L455.0 566.9L457.0 566.8L459.0 566.6L461.1 566.5L463.1 566.3L465.1 566.2L467.1 566.0L469.1 565.9L471.1 565.7L473.2 565.6L475.2 565.4L477.2 565.3L479.2 565.2L481.2 565.0L483.2 564.9L485.3 564.8L487.3 564.7L489.3 564.6L490.3 566.6L491.0 568.6L491.5 570.7L491.8 572.8L491.9 574.9L491.7 577.0L491.4 579.0L490.8 580.8L490.1 582.6L489.1 584.2L487.9 585.6L486.6 586.9L485.0 587.9L483.3 588.7L481.5 589.4L479.6 590.0L477.7 590.5L475.7 590.9L473.7 591.3L471.7 591.7L469.6 592.0L467.6 592.2L465.6 592.5L463.6 592.7L461.6 592.9L459.6 593.1L457.6 593.3L455.5 593.4L453.5 593.5L451.5 593.6L449.5 593.7L447.5 593.8L445.5 593.8L443.5 593.9L441.4 593.9L439.4 594.0L437.4 594.0L435.4 594.0L433.4 594.0L431.4 594.0L429.4 594.0L427.4 594.1L425.3 594.1L423.3 594.1L421.3 594.1L419.3 594.1L417.3 594.2L415.3 594.2L413.3 594.2L411.3 594.3L409.2 594.3L407.2 594.3L405.2 594.4L403.2 594.4L401.2 594.4L399.2 594.5L397.2 594.5L395.2 594.6L393.2 594.6L391.2 594.7L389.2 594.7L387.2 594.8L385.1 594.8L383.1 594.9L381.1 595.0L379.1 595.0L377.1 595.1L375.1 595.1L373.1 595.2L371.1 595.2L369.1 595.3L367.1 595.4L365.1 595.4L363.1 595.5L361.0 595.5L359.0 595.6L357.0 595.7L355.0 595.7L353.0 595.8L351.0 595.8L349.0 595.9L347.0 595.9L345.0 596.0L343.0 596.0L341.0 596.1L338.9 596.1L336.9 596.2L334.9 596.2L332.9 596.3L330.9 596.3L328.9 596.4L326.9 596.4L324.9 596.4L322.8 596.5L320.8 596.5L318.8 596.6L316.8 596.6L314.8 596.6L312.8 596.7L310.8 596.7L308.8 596.7L306.7 596.8L304.7 596.8L302.7 596.8L300.7 596.8L298.7 596.9L296.7 596.9L294.7 596.9L292.6 597.0L290.6 597.0L288.6 597.1L286.6 597.1L284.6 597.1L282.6 597.2L280.6 597.2L278.5 597.3L276.5 597.3L274.5 597.4L272.5 597.4L270.5 597.5L268.5 597.5L266.5 597.6L264.4 597.6L262.4 597.7L260.4 597.8L258.4 597.8L256.4 597.9L254.4 598.0L252.4 598.1L250.4 598.2L248.4 598.3L246.4 598.4L244.3 598.5L242.3 598.6L240.3 598.7L238.3 598.8L236.3 598.9L234.3 599.0L232.3 599.2L230.3 599.3L228.3 599.5L226.3 599.6L224.3 599.8L222.3 599.9L220.3 600.1L218.3 600.3L216.3 600.4L214.3 600.6L212.3 600.8L210.3 601.0L208.3 601.2L206.3 601.5L204.3 601.7L202.3 601.9L200.3 602.2L198.3 602.4L196.3 602.7L194.4 602.9L192.4 603.2L190.4 603.5L188.4 603.8L186.4 604.1L184.4 604.4L182.4 604.7L180.5 605.0L178.5 605.4L176.5 605.7L174.5 606.1L172.5 606.4L170.6 606.8L168.6 607.2L166.6 607.6L164.6 608.0L162.7 608.4L160.7 608.8L158.7 609.3L156.8 609.7L154.8 610.2" fill="none" stroke="#e03c3c" stroke-width="1.7" stroke-linejoin="round"/>
<path d="M153.3 638.8L153.5 636.9L153.6 634.9L153.7 632.9L153.7 630.9L153.7 629.0L153.6 626.9L153.6 624.9L153.5 622.9L153.4 620.9L153.3 618.8L153.2 616.8L153.1 614.7L153.1 612.7L153.0 610.6L153.0 608.5L152.9 606.5L153.0 604.4L153.0 602.4L153.1 600.3L153.3 598.3L153.6 596.3L153.9 594.3L154.2 592.3L154.7 590.4L155.2 588.5L155.8 586.6L156.5 584.7L157.2 582.9L158.1 581.2L159.0 579.4L160.0 577.8L161.2 576.2L162.4 574.7L163.7 573.2L165.1 571.8L166.5 570.4L168.0 569.1L169.6 567.9L171.2 566.8L172.9 565.7L174.6 564.6L176.4 563.7L178.2 562.8L180.0 562.0L181.8 561.2L183.7 560.5L185.6 559.9L187.5 559.3L189.4 558.8L191.4 558.3L193.3 557.9L195.3 557.5L197.3 557.2L199.3 556.9L201.3 556.6L203.3 556.4L205.3 556.2L207.4 556.1L209.4 555.9L211.5 555.8L213.5 555.7L215.6 555.7L217.6 555.6L219.7 555.6L221.7 555.5L223.7 555.5L225.8 555.4L227.8 555.4L229.8 555.4L231.9 555.4L233.9 555.4L235.9 555.3L237.9 555.3L239.9 555.3L241.9 555.3L243.9 555.3L245.9 555.3L247.9 555.3L249.9 555.3L251.9 555.3L253.9 555.3L255.9 555.3L257.9 555.2L259.9 555.2L261.9 555.2L263.9 555.2L265.9 555.2L267.9 555.2L269.9 555.2L271.8 555.2L273.8 555.2L275.8 555.2L277.8 555.2L279.8 555.2L281.8 555.2L283.9 555.2L285.9 555.1L287.9 555.1L289.9 555.1L291.9 555.1L293.9 555.1L295.9 555.1L297.9 555.1L299.9 555.0L302.0 555.0L304.0 555.0L306.0 555.0L308.0 555.0L310.0 555.0L312.0 555.0L314.1 555.0L316.1 554.9L318.1 554.9L320.1 554.9L322.1 554.9L324.2 554.9L326.2 554.9L328.2 554.9L330.2 554.9L332.2 554.9L334.3 554.9L336.3 555.0L338.3 555.0L340.3 555.0L342.3 555.0L344.3 555.0L346.4 555.0L348.4 555.1L350.4 555.1L352.4 555.1L354.4 555.2L356.4 555.2L358.4 555.2L360.5 555.2L362.5 555.3L364.5 555.3L366.5 555.3L368.5 555.3L370.5 555.3L372.5 555.3L374.5 555.4L376.5 555.4L378.5 555.3L380.5 555.3L382.5 555.3L384.5 555.3L386.6 555.3L388.6 555.2L390.6 555.2L392.6 555.1L394.6 555.0L396.6 554.9L398.6 554.9L400.6 554.7L402.6 554.6L404.6 554.5L406.6 554.4L408.6 554.2L410.6 554.1L412.6 553.9L414.6 553.8L416.6 553.6L418.6 553.4L420.6 553.2L422.6 553.0L424.6 552.8L426.6 552.6L428.6 552.4L430.6 552.2L432.6 551.9L434.6 551.7L436.6 551.4L438.6 551.2L440.6 550.9L442.6 550.7L444.6 550.4L446.6 550.2L448.6 549.9L450.6 549.6L452.6 549.3L454.6 549.1L456.6 548.8L458.6 548.5L460.6 548.2L462.6 547.9L464.6 547.6L466.6 547.3L468.6 547.0L470.5 546.7L472.5 546.4L474.5 546.1L476.5 545.8L478.5 545.5L480.5 545.2L482.5 544.9L484.5 544.6L486.4 544.3L488.4 544.0L490.4 543.7L490.6 545.6L490.7 547.5L490.9 549.4L491.0 551.4L491.2 553.4L491.3 555.4L491.5 557.4L491.6 559.5L491.7 561.5L491.8 563.6L491.8 565.7L491.8 567.8L491.8 569.9L491.7 572.0L491.6 574.0L491.4 576.1L491.1 578.1L490.7 580.1L490.3 582.0L489.7 583.9L489.0 585.7L488.2 587.4L487.3 589.1L486.2 590.6L485.0 592.0L483.7 593.4L482.2 594.6L480.7 595.8L479.0 596.9L477.3 597.9L475.5 598.8L473.6 599.6L471.7 600.4L469.7 601.0L467.8 601.7L465.8 602.2L463.8 602.7L461.8 603.2L459.8 603.5L457.8 603.9L455.8 604.2L453.8 604.5L451.8 604.7L449.8 605.0L447.8 605.2L445.8 605.4L443.8 605.6L441.8 605.8L439.8 606.0L437.8 606.2L435.8 606.4L433.8 606.6L431.8 606.7L429.8 606.9L427.8 607.1L425.8 607.2L423.8 607.4L421.8 607.5L419.8 607.6L417.8 607.8L415.8 607.9L413.7 608.0L411.7 608.1L409.7 608.3L407.7 608.4L405.7 608.5L403.7 608.6L401.7 608.7L399.7 608.8L397.7 608.9L395.7 609.0L393.7 609.1L391.7 609.2L389.6 609.3L387.6 609.4L385.6 609.4L383.6 609.5L381.6 609.6L379.6 609.7L377.6 609.8L375.6 609.9L373.6 610.0L371.5 610.0L369.5 610.1L367.5 610.2L365.5 610.3L363.5 610.4L361.5 610.5L359.5 610.6L357.5 610.6L355.5 610.7L353.5 610.8L351.4 610.9L349.4 611.0L347.4 611.1L345.4 611.2L343.4 611.3L341.4 611.4L339.4 611.5L337.4 611.6L335.4 611.8L333.4 611.9L331.4 612.0L329.4 612.1L327.3 612.2L325.3 612.3L323.3 612.5L321.3 612.6L319.3 612.7L317.3 612.8L315.3 613.0L313.3 613.1L311.3 613.2L309.3 613.4L307.3 613.5L305.3 613.6L303.3 613.8L301.3 613.9L299.2 614.0L297.2 614.2L295.2 614.3L293.2 614.5L291.2 614.6L289.2 614.8L287.2 614.9L285.2 615.1L283.2 615.2L281.2 615.4L279.2 615.5L277.2 615.7L275.2 615.8L273.2 616.0L271.2 616.1L269.1 616.3L267.1 616.4L265.1 616.6L263.1 616.7L261.1 616.9L259.1 617.0L257.1 617.2L255.1 617.4L253.1 617.5L251.1 617.7L249.1 617.8L247.1 618.0L245.0 618.2L243.0 618.3L241.0 618.5L239.0 618.6L237.0 618.8L235.0 619.0L233.0 619.2L231.0 619.3L229.0 619.5L227.0 619.7L225.0 619.9L223.0 620.2L221.0 620.4L219.0 620.6L217.0 620.9L215.0 621.1L213.0 621.4L211.0 621.7L209.1 622.0L207.1 622.4L205.1 622.7L203.1 623.1L201.2 623.5L199.2 623.9L197.3 624.4L195.3 624.9L193.4 625.3L191.4 625.9L189.5 626.4L187.6 627.0L185.6 627.6L183.7 628.2L181.8 628.8L179.9 629.4L178.0 630.0L176.0 630.7L174.1 631.4L172.2 632.0L170.3 632.7L168.4 633.4L166.5 634.1L164.6 634.8L162.7 635.4L160.9 636.1L159.0 636.8L157.1 637.5L155.2 638.1L153.3 638.8" fill="none" stroke="#3434cc" stroke-width="1.7" stroke-linejoin="round"/>
<path d="M152.6 750.0L152.6 748.0L152.6 746.0L152.5 744.0L152.5 742.0L152.5 739.9L152.5 737.9L152.5 735.9L152.5 733.9L152.5 731.9L152.5 729.9L152.5 727.9L152.5 725.9L152.5 723.9L152.6 721.9L152.6 719.8L152.6 717.8L152.6 715.8L152.6 713.8L152.7 711.8L152.7 709.8L152.7 707.8L152.7 705.8L152.7 703.8L152.8 701.8L152.8 699.8L152.8 697.8L152.8 695.7L152.8 693.7L152.9 691.7L152.9 689.7L152.9 687.7L152.9 685.7L152.9 683.7L152.9 681.7L152.9 679.7L153.0 677.7L153.0 675.7L153.0 673.6L153.0 671.6L153.0 669.6L153.0 667.6L152.9 665.6L152.9 663.6L152.9 661.6L152.9 659.6L152.9 657.6L152.9 655.5L152.9 653.5L152.8 651.5L152.8 649.5L152.8 647.5L152.8 645.5L152.8 643.5L152.8 641.4L152.8 639.4L152.8 637.4L152.8 635.4L152.8 633.4L152.8 631.4L152.8 629.4L152.9 627.4L152.9 625.4L152.9 623.4L153.0 621.4L153.0 619.3L153.1 617.3L153.2 615.3L153.3 613.3L153.3 611.3L153.4 609.3L153.5 607.3L153.7 605.3L153.8 603.3L153.9 601.3L154.1 599.3L154.3 597.3L154.5 595.4L154.7 593.4L155.0 591.4L155.3 589.4L155.7 587.5L156.1 585.5L156.6 583.6L157.1 581.6L157.6 579.7L158.1 577.7L158.6 575.8L159.0 573.8L159.4 571.9L159.8 569.9L160.3 568.0L160.7 566.0L161.1 564.1L161.6 562.1L162.0 560.2L162.5 558.2L163.0 556.2L163.5 554.3L164.0 552.3L164.6 550.4L165.2 548.5L165.8 546.5L166.4 544.6L167.1 542.7L167.8 540.8L168.5 538.9L169.2 537.1L170.0 535.2L170.8 533.4L171.7 531.6L172.5 529.8L173.4 528.0L174.4 526.2L175.4 524.5L176.4 522.8L177.5 521.1L178.6 519.5L179.8 517.9L181.0 516.3L182.3 514.8L183.6 513.3L184.9 511.8L186.3 510.4L187.8 509.0L189.3 507.7L190.8 506.4L192.4 505.2L194.1 504.0L195.8 502.9L197.5 501.8L199.3 500.7L201.1 499.8L202.9 498.9L204.7 498.0L206.6 497.2L208.5 496.5L210.3 495.8L212.2 495.2L214.1 494.6L216.1 494.1L218.0 493.6L219.9 493.1L221.9 492.7L223.8 492.4L225.8 492.0L227.8 491.7L229.8 491.4L231.7 491.1L233.7 490.9L235.7 490.6L237.7 490.4L239.7 490.2L241.7 490.0L243.7 489.8L245.7 489.6L247.7 489.4L249.7 489.2L251.7 489.0L253.7 488.8L255.7 488.6L257.7 488.5L259.7 488.3L261.7 488.1L263.7 488.0L265.7 487.8L267.7 487.6L269.8 487.5L271.8 487.3L273.8 487.2L275.8 487.1L277.8 486.9L279.8 486.8L281.8 486.7L283.8 486.6L285.8 486.4L287.8 486.3L289.8 486.2L291.8 486.1L293.8 486.0L295.8 485.9L297.8 485.8L299.9 485.7L301.9 485.7L303.9 485.6L305.9 485.5L307.9 485.4L309.9 485.3L311.9 485.3L313.9 485.2L315.9 485.1L317.9 485.1L319.9 485.0L321.9 485.0L323.9 484.9L325.9 484.9L328.0 484.8L330.0 484.8L332.0 484.7L334.0 484.7L336.0 484.6L338.0 484.6L340.0 484.5L342.0 484.5L344.0 484.5L346.0 484.4L348.0 484.4L350.0 484.3L352.1 484.3L354.1 484.3L356.1 484.2L358.1 484.2L360.1 484.2L362.1 484.1L364.1 484.1L366.1 484.1L368.1 484.0L370.2 484.0L372.2 484.0L374.2 483.9L376.2 483.9L378.2 483.8L380.2 483.8L382.2 483.7L384.2 483.7L386.2 483.6L388.3 483.6L390.3 483.5L392.3 483.4L394.3 483.3L396.3 483.2L398.3 483.1L400.3 483.0L402.3 482.9L404.3 482.8L406.3 482.7L408.3 482.5L410.3 482.4L412.3 482.2L414.3 482.1L416.3 481.9L418.3 481.7L420.3 481.5L422.3 481.3L424.3 481.1L426.3 480.9L428.3 480.6L430.3 480.4L432.3 480.1L434.3 479.8L436.3 479.6L438.3 479.3L440.2 478.9L442.2 478.6L444.2 478.3L446.2 477.9L448.1 477.5L450.1 477.1L452.1 476.7L454.0 476.3L456.0 475.9L458.0 475.5L459.9 475.0L461.9 474.5L463.8 474.0L465.7 473.5L467.7 473.0L469.6 472.5L471.6 471.9L473.5 471.3L475.4 470.7L477.3 470.1L479.2 469.5L481.1 468.9L483.0 468.2L484.9 467.5L486.8 466.8L488.7 466.1L490.6 465.4L490.7 467.4L490.7 469.4L490.8 471.4L490.8 473.5L490.8 475.5L490.9 477.5L490.9 479.5L490.9 481.5L490.9 483.5L490.9 485.5L490.9 487.5L490.9 489.5L490.9 491.5L490.9 493.6L490.9 495.6L490.9 497.6L490.9 499.6L490.8 501.6L490.8 503.6L490.8 505.6L490.8 507.6L490.8 509.6L490.7 511.6L490.7 513.7L490.7 515.7L490.7 517.7L490.7 519.7L490.6 521.7L490.6 523.7L490.6 525.7L490.6 527.7L490.6 529.7L490.6 531.7L490.6 533.7L490.6 535.7L490.6 537.8L490.6 539.8L490.6 541.8L490.6 543.8L490.6 545.8L490.6 547.8L490.6 549.8L490.6 551.8L490.7 553.8L490.7 555.8L490.7 557.9L490.7 559.9L490.7 561.9L490.7 563.9L490.6 565.9L490.6 567.9L490.6 569.9L490.5 571.9L490.5 573.9L490.4 575.9L490.3 577.9L490.2 580.0L490.1 582.0L490.0 584.0L489.8 586.0L489.7 588.0L489.5 590.0L489.3 592.0L489.1 594.0L488.8 596.0L488.6 598.0L488.3 600.0L488.0 602.0L487.7 604.0L487.3 606.0L486.9 608.0L486.5 610.0L486.1 612.0L485.6 614.0L485.1 615.9L484.5 617.9L483.9 619.8L483.2 621.7L482.5 623.6L481.7 625.4L480.9 627.2L480.0 629.0L479.1 630.7L478.1 632.4L477.0 634.0L475.9 635.6L474.6 637.1L473.4 638.6L472.0 640.0L470.7 641.4L469.2 642.7L467.7 644.0L466.2 645.3L464.6 646.5L463.0 647.6L461.3 648.7L459.6 649.8L457.9 650.8L456.2 651.8L454.4 652.7L452.6 653.5L450.7 654.4L448.9 655.2L447.0 655.9L445.1 656.6L443.2 657.3L441.2 658.0L439.3 658.6L437.3 659.2L435.4 659.8L433.4 660.4L431.5 661.0L429.5 661.5L427.5 662.1L425.5 662.6L423.6 663.1L421.6 663.7L419.7 664.2L417.7 664.7L415.8 665.2L413.8 665.7L411.9 666.2L409.9 666.7L408.0 667.2L406.1 667.7L404.1 668.2L402.2 668.7L400.2 669.1L398.3 669.6L396.4 670.0L394.4 670.5L392.5 670.9L390.5 671.3L388.6 671.7L386.6 672.1L384.7 672.5L382.7 672.9L380.7 673.2L378.7 673.6L376.8 673.9L374.8 674.3L372.8 674.6L370.8 674.9L368.9 675.3L366.9 675.6L364.9 675.9L362.9 676.2L360.9 676.5L358.9 676.8L356.9 677.1L354.9 677.4L352.9 677.7L351.0 678.0L349.0 678.3L347.0 678.6L345.0 678.9L343.0 679.2L341.0 679.5L339.0 679.8L337.0 680.1L335.0 680.5L333.0 680.8L331.0 681.1L329.0 681.4L327.1 681.8L325.1 682.1L323.1 682.4L321.1 682.8L319.1 683.2L317.2 683.5L315.2 683.9L313.2 684.3L311.2 684.7L309.3 685.1L307.3 685.5L305.3 685.9L303.4 686.3L301.4 686.7L299.5 687.2L297.5 687.6L295.6 688.0L293.6 688.5L291.6 688.9L289.7 689.4L287.7 689.8L285.8 690.3L283.8 690.8L281.9 691.2L279.9 691.7L278.0 692.2L276.0 692.6L274.1 693.1L272.1 693.6L270.2 694.1L268.2 694.5L266.3 695.0L264.3 695.5L262.4 696.0L260.4 696.5L258.5 697.0L256.5 697.4L254.5 697.9L252.6 698.4L250.6 698.9L248.7 699.3L246.7 699.8L244.8 700.3L242.8 700.8L240.8 701.2L238.9 701.7L236.9 702.2L234.9 702.7L233.0 703.1L231.0 703.6L229.1 704.1L227.1 704.6L225.2 705.2L223.2 705.7L221.3 706.3L219.4 706.8L217.5 707.4L215.6 708.0L213.7 708.7L211.8 709.3L209.9 710.0L208.1 710.7L206.2 711.5L204.4 712.3L202.6 713.1L200.8 713.9L199.0 714.8L197.2 715.7L195.5 716.7L193.7 717.7L192.0 718.7L190.3 719.7L188.6 720.8L186.9 721.9L185.3 723.1L183.6 724.2L182.0 725.4L180.4 726.6L178.7 727.9L177.1 729.1L175.5 730.4L174.0 731.7L172.4 733.0L170.8 734.3L169.3 735.6L167.7 736.9L166.2 738.2L164.7 739.5L163.1 740.9L161.6 742.2L160.1 743.5L158.6 744.8L157.1 746.1L155.6 747.4L154.1 748.7L152.6 750.0" fill="none" stroke="#ee30ee" stroke-width="1.7" stroke-linejoin="round"/>
<path d="M108.90 438.3H534.90M108.90 779H534.90" stroke="#474747" stroke-width="2" fill="none"/>
<path d="M110 437.3V780M533.8 437.3V780" stroke="#262626" stroke-width="2.1" fill="none"/>
<path d="M102.50 438.30H110M102.50 486.97H110M102.50 535.64H110M102.50 584.31H110M102.50 632.99H110M102.50 681.66H110M102.50 730.33H110M102.50 779.00H110M105.50 462.64H110M105.50 511.31H110M105.50 559.98H110M105.50 608.65H110M105.50 657.32H110M105.50 705.99H110M105.50 754.66H110" stroke="#474747" stroke-width="2" fill="none"/>
<path d="M152.38 779V786.50M237.14 779V786.50M321.90 779V786.50M406.66 779V786.50M491.42 779V786.50M110.00 779V783.50M194.76 779V783.50M279.52 779V783.50M364.28 779V783.50M449.04 779V783.50M533.80 779V783.50" stroke="#262626" stroke-width="2" fill="none"/>
<text transform="translate(97.60,444.90) scale(1,1.04)" font-size="19" text-anchor="end" fill="#111">3x10<tspan font-size="10" dy="-9.6" dx="0.8">-4</tspan></text>
<text transform="translate(97.60,493.57) scale(1,1.04)" font-size="19" text-anchor="end" fill="#111">2x10<tspan font-size="10" dy="-9.6" dx="0.8">-4</tspan></text>
<text transform="translate(97.60,542.24) scale(1,1.04)" font-size="19" text-anchor="end" fill="#111">1x10<tspan font-size="10" dy="-9.6" dx="0.8">-4</tspan></text>
<text transform="translate(98.70,589.51) scale(1,1.04)" font-size="19" text-anchor="end" fill="#111">0</text>
<text transform="translate(97.60,639.59) scale(1,1.04)" font-size="19" text-anchor="end" fill="#111">-1x10<tspan font-size="10" dy="-9.6" dx="0.8">-4</tspan></text>
<text transform="translate(97.60,688.26) scale(1,1.04)" font-size="19" text-anchor="end" fill="#111">-2x10<tspan font-size="10" dy="-9.6" dx="0.8">-4</tspan></text>
<text transform="translate(97.60,736.93) scale(1,1.04)" font-size="19" text-anchor="end" fill="#111">-3x10<tspan font-size="10" dy="-9.6" dx="0.8">-4</tspan></text>
<text transform="translate(97.60,785.60) scale(1,1.04)" font-size="19" text-anchor="end" fill="#111">-4x10<tspan font-size="10" dy="-9.6" dx="0.8">-4</tspan></text>
<text transform="translate(152.38,805.80) scale(1,1.04)" font-size="19" text-anchor="middle" fill="#111">-0.4</text>
<text transform="translate(237.14,805.80) scale(1,1.04)" font-size="19" text-anchor="middle" fill="#111">-0.2</text>
<text transform="translate(321.90,805.80) scale(1,1.04)" font-size="19" text-anchor="middle" fill="#111">0.0</text>
<text transform="translate(406.66,805.80) scale(1,1.04)" font-size="19" text-anchor="middle" fill="#111">0.2</text>
<text transform="translate(491.42,805.80) scale(1,1.04)" font-size="19" text-anchor="middle" fill="#111">0.4</text>
<text transform="translate(321.90,840.00) scale(0.99,1)" font-size="22.5" text-anchor="middle" fill="#111">Potential (V vs SCE)</text>
<text transform="translate(20.80,720.90) rotate(-90)" font-size="22.5" fill="#111">Current density (A/cm<tspan font-size="13.3" dy="-10.7">2</tspan><tspan dy="10.7" dx="2.2">)</tspan></text>
<text transform="translate(116.30,468.50) scale(1.04,1)" font-size="28.5" fill="#111">(b)</text>
<text transform="translate(191.32,457.70) scale(0.9813,1)" font-size="18" fill="#111">Texturing time: 20 min</text>
<text transform="translate(189.55,480.30) scale(0.9865,1)" font-size="18" fill="#111">Film thickness: 208 nm</text>
<line x1="397.10" y1="689.60" x2="440.70" y2="689.60" stroke="#333333" stroke-width="2.3"/>
<text x="446.00" y="696.50" font-size="19.3" fill="#111">0.005 V/s</text>
<line x1="397.10" y1="713.90" x2="440.70" y2="713.90" stroke="#e03c3c" stroke-width="2.3"/>
<text x="446.00" y="720.80" font-size="19.3" fill="#111">0.02 V/s</text>
<line x1="397.10" y1="738.20" x2="440.70" y2="738.20" stroke="#3434cc" stroke-width="2.3"/>
<text x="446.00" y="745.10" font-size="19.3" fill="#111">0.05 V/s</text>
<line x1="397.10" y1="762.50" x2="440.70" y2="762.50" stroke="#ee30ee" stroke-width="2.3"/>
<text x="446.00" y="769.40" font-size="19.3" fill="#111">0.2 V/s</text>
<path d="M743.5 586.0L744.5 584.2L745.7 582.7L747.1 581.6L748.7 580.6L750.4 579.9L752.3 579.3L754.1 578.8L756.1 578.5L758.0 578.2L760.0 578.0L762.1 577.9L764.1 577.8L766.2 577.7L768.3 577.7L770.3 577.7L772.4 577.6L774.5 577.6L776.5 577.6L778.6 577.6L780.6 577.6L782.7 577.5L784.7 577.5L786.7 577.4L788.8 577.4L790.8 577.4L792.8 577.3L794.8 577.3L796.8 577.2L798.8 577.2L800.9 577.1L802.9 577.1L804.9 577.0L806.9 577.0L808.9 576.9L810.9 576.9L812.9 576.9L814.9 576.8L816.9 576.8L818.9 576.7L820.9 576.7L822.9 576.7L824.9 576.7L826.9 576.6L828.9 576.6L831.0 576.6L833.0 576.6L835.0 576.6L837.0 576.6L839.0 576.5L841.0 576.5L843.0 576.5L845.0 576.5L847.1 576.5L849.1 576.5L851.1 576.5L853.1 576.5L855.1 576.5L857.1 576.5L859.2 576.5L861.2 576.5L863.2 576.5L865.2 576.5L867.2 576.5L869.3 576.5L871.3 576.5L873.3 576.5L875.3 576.5L877.3 576.5L879.4 576.5L881.4 576.5L883.4 576.5L885.4 576.5L887.4 576.5L889.5 576.5L891.5 576.5L893.5 576.5L895.5 576.5L897.5 576.5L899.6 576.5L901.6 576.5L903.6 576.5L905.6 576.5L907.6 576.5L909.7 576.5L911.7 576.5L913.7 576.5L915.7 576.5L917.7 576.5L919.7 576.4L921.8 576.4L923.8 576.4L925.8 576.4L927.8 576.4L929.8 576.3L931.9 576.3L933.9 576.3L935.9 576.3L937.9 576.2L939.9 576.2L941.9 576.2L944.0 576.1L946.0 576.1L948.0 576.1L950.0 576.0L952.0 576.0L954.0 576.0L956.1 575.9L958.1 575.9L960.1 575.9L962.1 575.8L964.1 575.8L966.1 575.7L968.1 575.7L970.2 575.7L972.2 575.6L974.2 575.6L976.2 575.5L978.2 575.5L980.2 575.4L982.3 575.4L984.3 575.3L986.3 575.3L988.3 575.2L990.3 575.2L992.3 575.1L994.3 575.1L996.4 575.0L998.4 574.9L1000.4 574.9L1002.4 574.8L1004.4 574.8L1006.4 574.7L1008.4 574.7L1010.5 574.6L1012.5 574.5L1014.5 574.5L1016.5 574.4L1018.5 574.4L1020.5 574.3L1022.5 574.2L1024.6 574.2L1026.6 574.1L1028.6 574.0L1030.6 574.0L1032.6 573.9L1034.6 573.8L1036.7 573.8L1038.7 573.7L1040.7 573.6L1042.7 573.6L1044.7 573.5L1046.7 573.4L1048.7 573.4L1050.8 573.3L1052.8 573.2L1054.8 573.2L1056.8 573.1L1058.8 573.0L1060.8 572.9L1062.9 572.9L1064.9 572.8L1066.9 572.7L1068.9 572.7L1070.9 572.6L1072.9 572.5L1075.0 572.4L1077.0 572.4L1079.0 572.3L1081.3 573.0L1082.0 574.0L1081.6 575.1L1080.4 576.4L1078.6 577.5L1076.7 578.4L1074.7 579.1L1072.7 579.6L1070.7 579.9L1068.7 580.1L1066.6 580.3L1064.6 580.3L1062.6 580.4L1060.6 580.5L1058.5 580.6L1056.5 580.7L1054.5 580.8L1052.5 580.9L1050.4 581.0L1048.4 581.1L1046.4 581.2L1044.4 581.3L1042.3 581.4L1040.3 581.4L1038.3 581.5L1036.3 581.6L1034.3 581.7L1032.2 581.8L1030.2 581.9L1028.2 582.0L1026.2 582.0L1024.2 582.1L1022.1 582.2L1020.1 582.3L1018.1 582.3L1016.1 582.4L1014.1 582.5L1012.0 582.5L1010.0 582.6L1008.0 582.6L1006.0 582.7L1004.0 582.7L1001.9 582.8L999.9 582.8L997.9 582.9L995.9 582.9L993.9 583.0L991.8 583.0L989.8 583.0L987.8 583.1L985.8 583.1L983.8 583.1L981.7 583.2L979.7 583.2L977.7 583.2L975.7 583.2L973.6 583.3L971.6 583.3L969.6 583.3L967.6 583.3L965.6 583.3L963.5 583.3L961.5 583.4L959.5 583.4L957.5 583.4L955.4 583.4L953.4 583.4L951.4 583.4L949.4 583.4L947.4 583.4L945.3 583.5L943.3 583.5L941.3 583.5L939.3 583.5L937.2 583.5L935.2 583.5L933.2 583.5L931.2 583.5L929.2 583.5L927.1 583.6L925.1 583.6L923.1 583.6L921.1 583.6L919.0 583.6L917.0 583.6L915.0 583.6L913.0 583.7L910.9 583.7L908.9 583.7L906.9 583.7L904.9 583.7L902.9 583.8L900.8 583.8L898.8 583.8L896.8 583.8L894.8 583.8L892.7 583.9L890.7 583.9L888.7 583.9L886.7 583.9L884.6 584.0L882.6 584.0L880.6 584.0L878.6 584.0L876.6 584.1L874.5 584.1L872.5 584.1L870.5 584.2L868.5 584.2L866.4 584.2L864.4 584.2L862.4 584.3L860.4 584.3L858.4 584.3L856.3 584.4L854.3 584.4L852.3 584.4L850.3 584.4L848.3 584.5L846.2 584.5L844.2 584.5L842.2 584.6L840.2 584.6L838.1 584.6L836.1 584.7L834.1 584.7L832.1 584.7L830.1 584.8L828.0 584.8L826.0 584.8L824.0 584.9L822.0 584.9L820.0 584.9L817.9 585.0L815.9 585.0L813.9 585.0L811.9 585.1L809.9 585.1L807.8 585.1L805.8 585.2L803.8 585.2L801.8 585.3L799.8 585.3L797.7 585.4L795.7 585.4L793.7 585.5L791.7 585.6L789.6 585.6L787.6 585.7L785.6 585.8L783.6 585.9L781.5 586.0L779.5 586.1L777.5 586.2L775.5 586.3L773.4 586.4L771.4 586.6L769.4 586.7L767.4 586.8L765.3 587.0L763.3 587.1L761.3 587.3L759.2 587.4L757.2 587.4L755.2 587.5L753.2 587.4L751.2 587.3L749.3 587.1L747.3 586.9L745.4 586.5L743.5 586.0" fill="none" stroke="#333333" stroke-width="1.7" stroke-linejoin="round"/>
<path d="M745.4 604.7L744.9 602.6L744.6 600.5L744.4 598.4L744.4 596.3L744.5 594.3L744.8 592.3L745.2 590.3L745.8 588.4L746.5 586.6L747.4 584.9L748.4 583.3L749.6 581.8L751.0 580.4L752.5 579.1L754.1 577.9L755.8 576.8L757.6 575.9L759.4 575.0L761.3 574.2L763.1 573.5L765.0 572.8L766.9 572.3L768.9 571.8L770.8 571.3L772.8 571.0L774.7 570.6L776.7 570.4L778.7 570.1L780.7 569.9L782.7 569.8L784.7 569.7L786.7 569.6L788.7 569.5L790.8 569.4L792.8 569.4L794.8 569.3L796.8 569.3L798.9 569.3L800.9 569.2L802.9 569.2L804.9 569.2L807.0 569.1L809.0 569.1L811.0 569.1L813.0 569.0L815.0 569.0L817.1 568.9L819.1 568.9L821.1 568.8L823.1 568.8L825.1 568.7L827.1 568.7L829.2 568.6L831.2 568.6L833.2 568.6L835.2 568.5L837.2 568.5L839.2 568.4L841.2 568.4L843.2 568.3L845.2 568.3L847.2 568.2L849.3 568.2L851.3 568.1L853.3 568.1L855.3 568.0L857.3 568.0L859.3 567.9L861.3 567.9L863.3 567.8L865.3 567.8L867.3 567.7L869.3 567.7L871.3 567.6L873.3 567.6L875.3 567.6L877.4 567.5L879.4 567.5L881.4 567.5L883.4 567.4L885.4 567.4L887.4 567.4L889.4 567.3L891.4 567.3L893.4 567.3L895.4 567.3L897.4 567.2L899.4 567.2L901.5 567.2L903.5 567.2L905.5 567.2L907.5 567.2L909.5 567.2L911.5 567.1L913.5 567.1L915.5 567.1L917.5 567.1L919.6 567.1L921.6 567.1L923.6 567.1L925.6 567.1L927.6 567.1L929.6 567.1L931.6 567.1L933.7 567.1L935.7 567.0L937.7 567.0L939.7 567.0L941.7 567.0L943.7 567.0L945.7 567.0L947.8 567.0L949.8 566.9L951.8 566.9L953.8 566.9L955.8 566.9L957.8 566.8L959.8 566.8L961.9 566.8L963.9 566.7L965.9 566.7L967.9 566.6L969.9 566.6L971.9 566.5L973.9 566.5L975.9 566.4L977.9 566.4L980.0 566.3L982.0 566.2L984.0 566.2L986.0 566.1L988.0 566.0L990.0 565.9L992.0 565.8L994.0 565.7L996.0 565.6L998.0 565.5L1000.0 565.4L1002.1 565.3L1004.1 565.1L1006.1 565.0L1008.1 564.9L1010.1 564.7L1012.1 564.6L1014.1 564.4L1016.1 564.3L1018.1 564.1L1020.1 564.0L1022.1 563.8L1024.1 563.7L1026.1 563.5L1028.1 563.3L1030.1 563.2L1032.1 563.0L1034.1 562.8L1036.1 562.6L1038.1 562.5L1040.1 562.3L1042.1 562.1L1044.1 561.9L1046.1 561.7L1048.1 561.5L1050.1 561.4L1052.1 561.2L1054.1 561.0L1056.1 560.8L1058.1 560.6L1060.1 560.5L1062.1 560.3L1064.2 560.1L1066.2 559.9L1068.2 559.7L1070.2 559.6L1072.2 559.4L1074.2 559.2L1076.2 559.0L1078.2 558.9L1080.2 558.7L1081.3 560.5L1082.2 562.4L1082.7 564.4L1083.0 566.4L1083.0 568.5L1082.7 570.5L1082.2 572.4L1081.4 574.3L1080.3 575.9L1079.1 577.4L1077.7 578.7L1076.1 579.9L1074.4 581.0L1072.7 581.9L1070.9 582.7L1069.0 583.4L1067.2 583.9L1065.2 584.4L1063.3 584.8L1061.3 585.2L1059.3 585.4L1057.3 585.6L1055.2 585.8L1053.2 585.9L1051.1 586.0L1049.0 586.1L1047.0 586.2L1044.9 586.3L1042.8 586.4L1040.8 586.6L1038.8 586.7L1036.7 586.9L1034.7 587.0L1032.7 587.2L1030.7 587.4L1028.7 587.6L1026.7 587.8L1024.7 588.0L1022.7 588.1L1020.7 588.3L1018.7 588.5L1016.7 588.6L1014.7 588.8L1012.7 588.9L1010.7 589.1L1008.7 589.2L1006.7 589.3L1004.7 589.4L1002.7 589.5L1000.7 589.6L998.7 589.7L996.7 589.8L994.7 589.9L992.7 590.0L990.7 590.1L988.6 590.2L986.6 590.2L984.6 590.3L982.6 590.3L980.6 590.4L978.6 590.5L976.6 590.5L974.6 590.6L972.5 590.6L970.5 590.6L968.5 590.7L966.5 590.7L964.5 590.7L962.5 590.8L960.4 590.8L958.4 590.8L956.4 590.9L954.4 590.9L952.4 590.9L950.4 590.9L948.3 590.9L946.3 591.0L944.3 591.0L942.3 591.0L940.3 591.0L938.2 591.1L936.2 591.1L934.2 591.1L932.2 591.1L930.2 591.2L928.2 591.2L926.1 591.2L924.1 591.2L922.1 591.3L920.1 591.3L918.1 591.3L916.0 591.4L914.0 591.4L912.0 591.5L910.0 591.5L908.0 591.5L906.0 591.6L903.9 591.6L901.9 591.7L899.9 591.7L897.9 591.8L895.9 591.8L893.9 591.9L891.8 592.0L889.8 592.0L887.8 592.1L885.8 592.1L883.8 592.2L881.8 592.3L879.8 592.3L877.7 592.4L875.7 592.5L873.7 592.6L871.7 592.7L869.7 592.7L867.7 592.8L865.7 592.9L863.6 593.0L861.6 593.1L859.6 593.2L857.6 593.3L855.6 593.4L853.6 593.5L851.6 593.6L849.6 593.7L847.5 593.8L845.5 594.0L843.5 594.1L841.5 594.2L839.5 594.3L837.5 594.5L835.5 594.6L833.5 594.7L831.5 594.9L829.5 595.0L827.5 595.2L825.4 595.3L823.4 595.5L821.4 595.6L819.4 595.8L817.4 596.0L815.4 596.1L813.4 596.3L811.4 596.5L809.4 596.6L807.4 596.8L805.4 597.0L803.4 597.2L801.4 597.4L799.4 597.6L797.4 597.8L795.4 598.0L793.4 598.2L791.4 598.4L789.3 598.7L787.3 598.9L785.3 599.1L783.3 599.4L781.3 599.6L779.3 599.8L777.3 600.1L775.3 600.3L773.3 600.6L771.3 600.9L769.3 601.1L767.4 601.4L765.4 601.7L763.4 602.0L761.4 602.2L759.4 602.5L757.4 602.8L755.4 603.1L753.4 603.4L751.4 603.7L749.4 604.1L747.4 604.4L745.4 604.7" fill="none" stroke="#e03c3c" stroke-width="1.7" stroke-linejoin="round"/>
<path d="M744.2 632.8L744.4 630.8L744.5 628.9L744.5 626.9L744.5 624.9L744.5 622.9L744.5 620.9L744.4 618.9L744.3 616.8L744.2 614.8L744.2 612.7L744.1 610.7L744.0 608.6L744.0 606.6L744.0 604.5L744.0 602.5L744.1 600.4L744.3 598.4L744.5 596.4L744.8 594.4L745.2 592.5L745.7 590.5L746.2 588.6L746.9 586.7L747.6 584.9L748.4 583.1L749.3 581.3L750.2 579.6L751.3 577.9L752.4 576.3L753.6 574.8L754.9 573.3L756.2 571.8L757.6 570.5L759.1 569.2L760.6 567.9L762.3 566.8L764.0 565.7L765.7 564.7L767.5 563.8L769.3 562.9L771.2 562.1L773.1 561.4L775.1 560.7L777.0 560.1L779.0 559.5L781.0 559.0L783.0 558.6L785.0 558.2L787.0 557.8L789.0 557.5L791.0 557.2L792.9 556.9L794.9 556.7L796.9 556.5L798.9 556.3L800.9 556.1L802.9 555.9L804.9 555.8L806.9 555.7L808.9 555.5L810.9 555.4L812.9 555.3L814.9 555.2L816.9 555.0L818.9 554.9L820.9 554.9L822.9 554.8L824.9 554.7L826.9 554.6L828.9 554.5L830.9 554.5L832.9 554.4L834.9 554.4L836.9 554.3L838.9 554.3L841.0 554.2L843.0 554.2L845.0 554.1L847.0 554.1L849.0 554.0L851.0 554.0L853.0 554.0L855.0 553.9L857.0 553.9L859.1 553.9L861.1 553.9L863.1 553.8L865.1 553.8L867.1 553.8L869.1 553.7L871.1 553.7L873.1 553.7L875.1 553.7L877.2 553.6L879.2 553.6L881.2 553.6L883.2 553.5L885.2 553.5L887.2 553.5L889.2 553.5L891.2 553.4L893.2 553.4L895.2 553.4L897.3 553.4L899.3 553.3L901.3 553.3L903.3 553.3L905.3 553.3L907.3 553.2L909.3 553.2L911.3 553.2L913.3 553.2L915.4 553.1L917.4 553.1L919.4 553.1L921.4 553.0L923.4 553.0L925.4 553.0L927.4 552.9L929.4 552.9L931.4 552.9L933.4 552.8L935.5 552.8L937.5 552.8L939.5 552.7L941.5 552.7L943.5 552.7L945.5 552.6L947.5 552.6L949.5 552.5L951.5 552.5L953.5 552.4L955.5 552.4L957.6 552.3L959.6 552.3L961.6 552.2L963.6 552.2L965.6 552.1L967.6 552.1L969.6 552.0L971.6 551.9L973.6 551.9L975.6 551.8L977.6 551.7L979.7 551.7L981.7 551.6L983.7 551.5L985.7 551.5L987.7 551.4L989.7 551.3L991.7 551.2L993.7 551.1L995.7 551.0L997.7 550.9L999.7 550.8L1001.7 550.6L1003.7 550.5L1005.7 550.4L1007.8 550.2L1009.8 550.1L1011.8 549.9L1013.8 549.8L1015.8 549.6L1017.8 549.4L1019.8 549.2L1021.8 549.0L1023.8 548.8L1025.7 548.6L1027.7 548.3L1029.7 548.1L1031.7 547.8L1033.7 547.5L1035.7 547.2L1037.7 547.0L1039.7 546.6L1041.7 546.3L1043.7 546.0L1045.7 545.7L1047.6 545.4L1049.6 545.0L1051.6 544.7L1053.6 544.3L1055.6 544.0L1057.6 543.6L1059.5 543.3L1061.5 542.9L1063.5 542.5L1065.5 542.2L1067.5 541.8L1069.4 541.5L1071.4 541.1L1073.4 540.8L1075.4 540.4L1077.3 540.1L1079.3 539.7L1081.3 539.4L1081.7 541.3L1082.1 543.3L1082.4 545.2L1082.7 547.2L1082.8 549.2L1083.0 551.2L1083.0 553.2L1083.0 555.2L1083.0 557.2L1082.9 559.2L1082.8 561.3L1082.6 563.3L1082.4 565.4L1082.2 567.5L1081.9 569.6L1081.6 571.6L1081.2 573.6L1080.7 575.6L1080.0 577.5L1079.3 579.4L1078.4 581.1L1077.4 582.8L1076.3 584.4L1075.0 585.8L1073.6 587.2L1072.1 588.4L1070.5 589.5L1068.8 590.5L1067.0 591.4L1065.1 592.1L1063.2 592.8L1061.2 593.3L1059.3 593.9L1057.3 594.4L1055.3 594.8L1053.3 595.2L1051.3 595.6L1049.3 595.9L1047.3 596.2L1045.3 596.5L1043.3 596.8L1041.3 597.1L1039.3 597.4L1037.3 597.6L1035.2 597.9L1033.2 598.1L1031.2 598.4L1029.2 598.6L1027.2 598.9L1025.2 599.1L1023.2 599.3L1021.2 599.5L1019.2 599.7L1017.2 599.9L1015.2 600.1L1013.2 600.3L1011.2 600.5L1009.1 600.7L1007.1 600.8L1005.1 601.0L1003.1 601.2L1001.1 601.3L999.1 601.5L997.1 601.6L995.1 601.8L993.1 601.9L991.1 602.0L989.0 602.2L987.0 602.3L985.0 602.4L983.0 602.5L981.0 602.7L979.0 602.8L977.0 602.9L975.0 603.0L972.9 603.1L970.9 603.2L968.9 603.3L966.9 603.4L964.9 603.5L962.9 603.6L960.9 603.7L958.8 603.8L956.8 603.8L954.8 603.9L952.8 604.0L950.8 604.1L948.8 604.2L946.8 604.3L944.7 604.3L942.7 604.4L940.7 604.5L938.7 604.6L936.7 604.7L934.7 604.7L932.7 604.8L930.6 604.9L928.6 605.0L926.6 605.1L924.6 605.2L922.6 605.2L920.6 605.3L918.5 605.4L916.5 605.5L914.5 605.6L912.5 605.7L910.5 605.8L908.5 605.9L906.4 606.0L904.4 606.1L902.4 606.2L900.4 606.3L898.4 606.4L896.4 606.5L894.4 606.6L892.3 606.7L890.3 606.9L888.3 607.0L886.3 607.1L884.3 607.2L882.3 607.4L880.3 607.5L878.3 607.7L876.2 607.8L874.2 608.0L872.2 608.1L870.2 608.3L868.2 608.5L866.2 608.6L864.2 608.8L862.2 609.0L860.2 609.2L858.1 609.3L856.1 609.5L854.1 609.7L852.1 609.9L850.1 610.1L848.1 610.3L846.1 610.5L844.1 610.7L842.1 610.9L840.1 611.1L838.1 611.4L836.1 611.6L834.1 611.8L832.0 612.0L830.0 612.2L828.0 612.4L826.0 612.7L824.0 612.9L822.0 613.1L820.0 613.3L818.0 613.6L816.0 613.8L814.0 614.0L812.0 614.3L810.0 614.5L808.0 614.8L806.0 615.1L804.0 615.4L802.0 615.7L800.0 616.0L798.0 616.3L796.0 616.6L794.1 617.0L792.1 617.3L790.1 617.7L788.1 618.1L786.2 618.5L784.2 619.0L782.2 619.4L780.3 619.9L778.3 620.4L776.4 620.9L774.4 621.5L772.5 622.1L770.6 622.7L768.6 623.3L766.7 623.9L764.8 624.6L762.9 625.3L761.0 626.0L759.1 626.7L757.2 627.4L755.3 628.2L753.5 628.9L751.6 629.7L749.7 630.5L747.9 631.2L746.0 632.0L744.2 632.8" fill="none" stroke="#3434cc" stroke-width="1.7" stroke-linejoin="round"/>
<path d="M743.6 733.0L743.7 731.0L743.7 729.0L743.8 727.0L743.8 725.0L743.9 722.9L743.9 720.9L743.9 718.9L743.9 716.9L744.0 714.9L744.0 712.9L744.0 710.9L744.0 708.9L744.0 706.9L744.0 704.8L744.0 702.8L744.0 700.8L744.0 698.8L744.0 696.8L744.0 694.8L744.0 692.8L744.0 690.8L744.0 688.7L744.0 686.7L744.0 684.7L744.0 682.7L744.0 680.7L744.0 678.7L744.0 676.7L743.9 674.7L743.9 672.7L743.9 670.6L744.0 668.6L744.0 666.6L744.0 664.6L744.0 662.6L744.0 660.6L744.0 658.6L744.0 656.6L744.1 654.6L744.1 652.6L744.1 650.5L744.2 648.5L744.2 646.5L744.3 644.5L744.3 642.5L744.4 640.5L744.5 638.5L744.5 636.5L744.6 634.5L744.7 632.5L744.8 630.5L744.9 628.5L745.0 626.5L745.2 624.5L745.3 622.5L745.4 620.5L745.6 618.5L745.7 616.5L745.9 614.5L746.1 612.5L746.3 610.5L746.5 608.5L746.7 606.5L746.9 604.5L747.2 602.5L747.4 600.5L747.7 598.5L747.9 596.5L748.2 594.5L748.5 592.5L748.8 590.5L749.2 588.5L749.5 586.5L749.9 584.5L750.2 582.6L750.6 580.6L751.0 578.6L751.5 576.6L751.9 574.7L752.4 572.7L752.9 570.7L753.4 568.8L753.9 566.9L754.5 564.9L755.0 563.0L755.7 561.1L756.3 559.2L757.0 557.3L757.7 555.4L758.4 553.5L759.1 551.7L759.9 549.8L760.7 548.0L761.6 546.1L762.5 544.3L763.4 542.5L764.3 540.8L765.3 539.0L766.3 537.2L767.4 535.5L768.5 533.8L769.6 532.1L770.8 530.5L772.0 528.9L773.2 527.3L774.4 525.7L775.7 524.2L777.1 522.7L778.4 521.2L779.8 519.8L781.3 518.4L782.7 517.1L784.2 515.8L785.8 514.5L787.3 513.3L788.9 512.2L790.5 511.1L792.2 510.0L793.9 509.0L795.6 508.1L797.4 507.2L799.2 506.3L801.0 505.6L802.8 504.8L804.7 504.2L806.6 503.5L808.5 502.9L810.5 502.4L812.4 501.9L814.4 501.4L816.4 501.0L818.4 500.6L820.4 500.2L822.4 499.8L824.4 499.5L826.4 499.1L828.5 498.8L830.5 498.6L832.5 498.3L834.5 498.0L836.6 497.7L838.6 497.5L840.6 497.2L842.6 497.0L844.6 496.8L846.6 496.5L848.6 496.3L850.6 496.1L852.6 495.9L854.6 495.7L856.6 495.5L858.6 495.3L860.6 495.1L862.6 494.9L864.6 494.7L866.5 494.5L868.5 494.4L870.5 494.2L872.5 494.0L874.5 493.9L876.5 493.7L878.5 493.6L880.5 493.4L882.5 493.3L884.5 493.1L886.5 493.0L888.5 492.9L890.5 492.8L892.5 492.6L894.5 492.5L896.5 492.4L898.5 492.3L900.5 492.2L902.5 492.1L904.5 492.0L906.5 491.9L908.5 491.8L910.5 491.7L912.5 491.6L914.5 491.5L916.6 491.4L918.6 491.3L920.6 491.2L922.6 491.2L924.6 491.1L926.6 491.0L928.6 491.0L930.6 490.9L932.7 490.8L934.7 490.8L936.7 490.7L938.7 490.7L940.7 490.6L942.7 490.5L944.7 490.5L946.8 490.4L948.8 490.4L950.8 490.4L952.8 490.3L954.8 490.3L956.8 490.2L958.9 490.2L960.9 490.1L962.9 490.1L964.9 490.0L966.9 490.0L968.9 489.9L970.9 489.8L973.0 489.8L975.0 489.7L977.0 489.6L979.0 489.5L981.0 489.4L983.0 489.3L985.0 489.2L987.0 489.0L989.0 488.9L991.0 488.7L993.0 488.5L995.0 488.4L997.0 488.2L999.0 488.0L1001.0 487.7L1002.9 487.5L1004.9 487.2L1006.9 486.9L1008.9 486.7L1010.9 486.3L1012.8 486.0L1014.8 485.7L1016.8 485.3L1018.7 484.9L1020.7 484.5L1022.6 484.0L1024.6 483.6L1026.6 483.1L1028.5 482.6L1030.4 482.1L1032.4 481.6L1034.3 481.0L1036.3 480.4L1038.2 479.9L1040.1 479.3L1042.0 478.7L1044.0 478.1L1045.9 477.4L1047.8 476.8L1049.7 476.1L1051.6 475.5L1053.5 474.8L1055.4 474.2L1057.3 473.5L1059.2 472.8L1061.1 472.1L1063.0 471.4L1064.9 470.8L1066.8 470.1L1068.7 469.4L1070.6 468.7L1072.5 468.0L1074.4 467.3L1076.3 466.6L1078.1 465.9L1080.0 465.3L1081.9 464.6L1082.0 466.6L1082.0 468.6L1082.0 470.6L1082.1 472.6L1082.1 474.6L1082.1 476.6L1082.2 478.7L1082.2 480.7L1082.2 482.7L1082.2 484.7L1082.2 486.7L1082.2 488.7L1082.2 490.7L1082.2 492.8L1082.2 494.8L1082.2 496.8L1082.2 498.8L1082.2 500.8L1082.2 502.8L1082.2 504.9L1082.2 506.9L1082.2 508.9L1082.1 510.9L1082.1 512.9L1082.1 515.0L1082.1 517.0L1082.1 519.0L1082.1 521.0L1082.1 523.0L1082.1 525.0L1082.1 527.0L1082.1 529.1L1082.1 531.1L1082.1 533.1L1082.1 535.1L1082.1 537.1L1082.1 539.1L1082.1 541.1L1082.1 543.1L1082.1 545.1L1082.0 547.1L1082.0 549.1L1081.9 551.1L1081.9 553.1L1081.8 555.1L1081.6 557.1L1081.5 559.1L1081.3 561.1L1081.1 563.1L1080.9 565.1L1080.7 567.1L1080.4 569.0L1080.1 571.0L1079.8 573.0L1079.5 575.0L1079.1 577.0L1078.7 578.9L1078.4 580.9L1078.0 582.9L1077.5 584.9L1077.1 586.9L1076.7 588.9L1076.2 590.9L1075.7 592.9L1075.2 594.9L1074.6 596.9L1074.1 598.8L1073.5 600.8L1072.8 602.7L1072.1 604.6L1071.4 606.5L1070.6 608.4L1069.8 610.2L1069.0 612.0L1068.1 613.8L1067.1 615.5L1066.1 617.2L1065.1 618.9L1063.9 620.5L1062.7 622.1L1061.5 623.6L1060.2 625.1L1058.9 626.5L1057.5 627.9L1056.0 629.2L1054.5 630.5L1053.0 631.7L1051.4 632.9L1049.7 634.0L1048.0 635.1L1046.3 636.1L1044.5 637.1L1042.8 638.0L1040.9 638.8L1039.1 639.7L1037.2 640.5L1035.3 641.2L1033.4 642.0L1031.5 642.6L1029.5 643.3L1027.6 644.0L1025.6 644.6L1023.7 645.2L1021.7 645.7L1019.8 646.3L1017.8 646.8L1015.9 647.3L1013.9 647.8L1011.9 648.3L1010.0 648.8L1008.0 649.3L1006.1 649.7L1004.1 650.1L1002.2 650.5L1000.2 651.0L998.2 651.3L996.3 651.7L994.3 652.1L992.4 652.5L990.4 652.8L988.4 653.2L986.4 653.5L984.5 653.8L982.5 654.2L980.5 654.5L978.5 654.8L976.5 655.1L974.5 655.4L972.6 655.7L970.6 656.0L968.6 656.3L966.6 656.6L964.6 656.8L962.6 657.1L960.6 657.4L958.6 657.7L956.6 657.9L954.6 658.2L952.6 658.5L950.6 658.8L948.6 659.0L946.6 659.3L944.6 659.6L942.6 659.9L940.6 660.1L938.6 660.4L936.6 660.7L934.6 661.0L932.6 661.3L930.6 661.6L928.6 661.9L926.6 662.2L924.6 662.5L922.6 662.8L920.6 663.2L918.7 663.5L916.7 663.8L914.7 664.2L912.7 664.5L910.7 664.9L908.8 665.3L906.8 665.7L904.8 666.0L902.8 666.4L900.9 666.8L898.9 667.3L897.0 667.7L895.0 668.1L893.0 668.5L891.1 669.0L889.1 669.4L887.2 669.9L885.2 670.3L883.3 670.8L881.3 671.3L879.4 671.7L877.4 672.2L875.5 672.7L873.5 673.2L871.6 673.7L869.6 674.2L867.7 674.7L865.7 675.2L863.8 675.7L861.9 676.2L859.9 676.8L858.0 677.3L856.0 677.8L854.1 678.4L852.1 678.9L850.2 679.5L848.3 680.0L846.3 680.6L844.4 681.1L842.4 681.7L840.5 682.3L838.6 682.8L836.6 683.4L834.7 684.0L832.7 684.6L830.8 685.2L828.9 685.8L826.9 686.4L825.0 687.0L823.1 687.6L821.2 688.3L819.2 688.9L817.3 689.5L815.4 690.2L813.5 690.9L811.6 691.6L809.7 692.3L807.8 693.0L805.9 693.7L804.1 694.4L802.2 695.1L800.3 695.9L798.5 696.7L796.6 697.4L794.8 698.2L793.0 699.1L791.1 699.9L789.3 700.7L787.5 701.6L785.7 702.5L783.9 703.4L782.2 704.3L780.4 705.2L778.7 706.2L776.9 707.2L775.2 708.2L773.5 709.2L771.8 710.2L770.1 711.3L768.4 712.3L766.7 713.5L765.1 714.6L763.4 715.7L761.8 716.9L760.2 718.1L758.6 719.3L757.0 720.6L755.5 721.8L753.9 723.1L752.4 724.5L750.9 725.8L749.4 727.2L747.9 728.6L746.5 730.0L745.0 731.5L743.6 733.0" fill="none" stroke="#ee30ee" stroke-width="1.7" stroke-linejoin="round"/>
<path d="M699.90 438H1126.10M699.90 779H1126.10" stroke="#474747" stroke-width="2" fill="none"/>
<path d="M701 437V780M1125 437V780" stroke="#262626" stroke-width="2.1" fill="none"/>
<path d="M693.50 466.42H701M693.50 523.25H701M693.50 580.08H701M693.50 636.92H701M693.50 693.75H701M693.50 750.58H701M696.50 438.00H701M696.50 494.83H701M696.50 551.67H701M696.50 608.50H701M696.50 665.33H701M696.50 722.17H701M696.50 779.00H701" stroke="#474747" stroke-width="2" fill="none"/>
<path d="M743.40 779V786.50M828.20 779V786.50M913.00 779V786.50M997.80 779V786.50M1082.60 779V786.50M701.00 779V783.50M785.80 779V783.50M870.60 779V783.50M955.40 779V783.50M1040.20 779V783.50M1125.00 779V783.50" stroke="#262626" stroke-width="2" fill="none"/>
<text transform="translate(688.60,473.02) scale(1,1.04)" font-size="19" text-anchor="end" fill="#111">2x10<tspan font-size="10" dy="-9.6" dx="0.8">-4</tspan></text>
<text transform="translate(688.60,529.85) scale(1,1.04)" font-size="19" text-anchor="end" fill="#111">1x10<tspan font-size="10" dy="-9.6" dx="0.8">-4</tspan></text>
<text transform="translate(689.70,585.28) scale(1,1.04)" font-size="19" text-anchor="end" fill="#111">0</text>
<text transform="translate(688.60,643.52) scale(1,1.04)" font-size="19" text-anchor="end" fill="#111">-1x10<tspan font-size="10" dy="-9.6" dx="0.8">-4</tspan></text>
<text transform="translate(688.60,700.35) scale(1,1.04)" font-size="19" text-anchor="end" fill="#111">-2x10<tspan font-size="10" dy="-9.6" dx="0.8">-4</tspan></text>
<text transform="translate(688.60,757.18) scale(1,1.04)" font-size="19" text-anchor="end" fill="#111">-3x10<tspan font-size="10" dy="-9.6" dx="0.8">-4</tspan></text>
<text transform="translate(743.40,805.80) scale(1,1.04)" font-size="19" text-anchor="middle" fill="#111">-0.4</text>
<text transform="translate(828.20,805.80) scale(1,1.04)" font-size="19" text-anchor="middle" fill="#111">-0.2</text>
<text transform="translate(913.00,805.80) scale(1,1.04)" font-size="19" text-anchor="middle" fill="#111">0.0</text>
<text transform="translate(997.80,805.80) scale(1,1.04)" font-size="19" text-anchor="middle" fill="#111">0.2</text>
<text transform="translate(1082.60,805.80) scale(1,1.04)" font-size="19" text-anchor="middle" fill="#111">0.4</text>
<text transform="translate(913.00,840.00) scale(0.99,1)" font-size="22.5" text-anchor="middle" fill="#111">Potential (V vs SCE)</text>
<text transform="translate(611.80,720.90) rotate(-90)" font-size="22.5" fill="#111">Current density (A/cm<tspan font-size="13.3" dy="-10.7">2</tspan><tspan dy="10.7" dx="2.2">)</tspan></text>
<text transform="translate(707.30,468.20) scale(1.04,1)" font-size="28.5" fill="#111">(c)</text>
<text transform="translate(792.92,458.60) scale(0.9902,1)" font-size="18" fill="#111">Texturing time: 40 min</text>
<text transform="translate(791.94,481.30) scale(0.9891,1)" font-size="18" fill="#111">Film thickness: 208 nm</text>
<line x1="988.30" y1="689.60" x2="1031.90" y2="689.60" stroke="#333333" stroke-width="2.3"/>
<text x="1037.20" y="696.50" font-size="19.3" fill="#111">0.005 V/s</text>
<line x1="988.30" y1="713.90" x2="1031.90" y2="713.90" stroke="#e03c3c" stroke-width="2.3"/>
<text x="1037.20" y="720.80" font-size="19.3" fill="#111">0.02 V/s</text>
<line x1="988.30" y1="738.20" x2="1031.90" y2="738.20" stroke="#3434cc" stroke-width="2.3"/>
<text x="1037.20" y="745.10" font-size="19.3" fill="#111">0.05 V/s</text>
<line x1="988.30" y1="762.50" x2="1031.90" y2="762.50" stroke="#ee30ee" stroke-width="2.3"/>
<text x="1037.20" y="769.40" font-size="19.3" fill="#111">0.2 V/s</text>
<path d="M152.1 1026.4L152.9 1024.6L154.0 1023.1L155.3 1021.9L156.8 1021.0L158.5 1020.3L160.4 1019.8L162.2 1019.3L164.2 1019.0L166.2 1018.8L168.2 1018.6L170.3 1018.5L172.3 1018.5L174.4 1018.4L176.5 1018.4L178.6 1018.4L180.7 1018.4L182.7 1018.3L184.8 1018.3L186.8 1018.3L188.9 1018.2L190.9 1018.2L192.9 1018.1L195.0 1018.1L197.0 1018.1L199.0 1018.0L201.0 1018.0L203.0 1017.9L205.0 1017.9L207.0 1017.9L209.0 1017.8L211.0 1017.8L213.0 1017.8L215.0 1017.7L217.0 1017.7L219.0 1017.7L221.0 1017.6L223.0 1017.6L225.0 1017.6L227.0 1017.6L229.0 1017.6L231.0 1017.6L233.0 1017.6L235.0 1017.6L237.1 1017.6L239.1 1017.6L241.1 1017.6L243.1 1017.6L245.1 1017.6L247.1 1017.6L249.1 1017.6L251.1 1017.6L253.1 1017.7L255.1 1017.7L257.2 1017.7L259.2 1017.7L261.2 1017.7L263.2 1017.8L265.2 1017.8L267.2 1017.8L269.3 1017.8L271.3 1017.9L273.3 1017.9L275.3 1017.9L277.3 1017.9L279.3 1018.0L281.4 1018.0L283.4 1018.0L285.4 1018.1L287.4 1018.1L289.4 1018.1L291.4 1018.1L293.5 1018.2L295.5 1018.2L297.5 1018.2L299.5 1018.2L301.5 1018.2L303.6 1018.3L305.6 1018.3L307.6 1018.3L309.6 1018.3L311.6 1018.3L313.6 1018.3L315.7 1018.4L317.7 1018.4L319.7 1018.4L321.7 1018.4L323.7 1018.4L325.7 1018.4L327.7 1018.4L329.8 1018.4L331.8 1018.4L333.8 1018.4L335.8 1018.4L337.8 1018.4L339.8 1018.4L341.9 1018.4L343.9 1018.4L345.9 1018.4L347.9 1018.4L349.9 1018.4L351.9 1018.4L353.9 1018.4L355.9 1018.4L358.0 1018.4L360.0 1018.3L362.0 1018.3L364.0 1018.3L366.0 1018.3L368.0 1018.3L370.0 1018.3L372.1 1018.2L374.1 1018.2L376.1 1018.2L378.1 1018.2L380.1 1018.1L382.1 1018.1L384.1 1018.1L386.1 1018.1L388.2 1018.0L390.2 1018.0L392.2 1018.0L394.2 1017.9L396.2 1017.9L398.2 1017.9L400.2 1017.8L402.2 1017.8L404.2 1017.8L406.3 1017.7L408.3 1017.7L410.3 1017.6L412.3 1017.6L414.3 1017.5L416.3 1017.5L418.3 1017.5L420.3 1017.4L422.4 1017.4L424.4 1017.3L426.4 1017.3L428.4 1017.2L430.4 1017.1L432.4 1017.1L434.4 1017.0L436.4 1017.0L438.5 1016.9L440.5 1016.9L442.5 1016.8L444.5 1016.7L446.5 1016.7L448.5 1016.6L450.5 1016.5L452.5 1016.5L454.6 1016.4L456.6 1016.3L458.6 1016.3L460.6 1016.2L462.6 1016.1L464.6 1016.1L466.6 1016.0L468.7 1015.9L470.7 1015.8L472.7 1015.8L474.7 1015.7L476.7 1015.6L478.7 1015.5L480.7 1015.4L482.8 1015.4L484.8 1015.3L486.8 1015.2L488.8 1015.1L491.0 1016.0L491.5 1017.3L490.9 1018.8L489.5 1020.2L487.7 1021.2L485.7 1021.9L483.6 1022.3L481.5 1022.7L479.5 1022.9L477.4 1023.1L475.4 1023.3L473.4 1023.4L471.4 1023.6L469.4 1023.6L467.4 1023.7L465.4 1023.8L463.4 1023.8L461.4 1023.9L459.4 1024.0L457.4 1024.0L455.4 1024.1L453.4 1024.1L451.4 1024.2L449.4 1024.2L447.4 1024.3L445.4 1024.3L443.4 1024.4L441.4 1024.4L439.4 1024.5L437.4 1024.5L435.3 1024.5L433.3 1024.6L431.3 1024.6L429.3 1024.6L427.3 1024.7L425.3 1024.7L423.2 1024.7L421.2 1024.8L419.2 1024.8L417.2 1024.8L415.2 1024.8L413.2 1024.9L411.2 1024.9L409.1 1024.9L407.1 1024.9L405.1 1024.9L403.1 1024.9L401.1 1025.0L399.1 1025.0L397.1 1025.0L395.0 1025.0L393.0 1025.0L391.0 1025.0L389.0 1025.0L387.0 1025.0L385.0 1025.0L383.0 1025.0L381.0 1025.0L378.9 1025.0L376.9 1025.0L374.9 1025.0L372.9 1025.0L370.9 1025.0L368.9 1025.0L366.9 1025.0L364.9 1025.0L362.9 1025.0L360.8 1025.0L358.8 1025.0L356.8 1025.0L354.8 1025.0L352.8 1025.0L350.8 1025.0L348.8 1025.0L346.8 1025.0L344.7 1025.1L342.7 1025.1L340.7 1025.1L338.7 1025.1L336.7 1025.1L334.7 1025.1L332.7 1025.1L330.7 1025.1L328.7 1025.1L326.6 1025.1L324.6 1025.1L322.6 1025.2L320.6 1025.2L318.6 1025.2L316.6 1025.2L314.6 1025.2L312.5 1025.3L310.5 1025.3L308.5 1025.3L306.5 1025.3L304.5 1025.4L302.5 1025.4L300.5 1025.4L298.5 1025.4L296.4 1025.5L294.4 1025.5L292.4 1025.5L290.4 1025.6L288.4 1025.6L286.4 1025.6L284.4 1025.7L282.3 1025.7L280.3 1025.7L278.3 1025.8L276.3 1025.8L274.3 1025.8L272.3 1025.8L270.3 1025.9L268.2 1025.9L266.2 1025.9L264.2 1026.0L262.2 1026.0L260.2 1026.0L258.2 1026.1L256.2 1026.1L254.2 1026.1L252.1 1026.2L250.1 1026.2L248.1 1026.2L246.1 1026.2L244.1 1026.3L242.1 1026.3L240.1 1026.3L238.1 1026.3L236.1 1026.4L234.1 1026.4L232.0 1026.4L230.0 1026.4L228.0 1026.5L226.0 1026.5L224.0 1026.5L222.0 1026.5L220.0 1026.5L218.0 1026.6L216.0 1026.6L214.0 1026.6L212.0 1026.7L209.9 1026.7L207.9 1026.7L205.9 1026.8L203.9 1026.8L201.9 1026.9L199.9 1027.0L197.9 1027.0L195.8 1027.1L193.8 1027.2L191.8 1027.3L189.8 1027.4L187.8 1027.5L185.7 1027.7L183.7 1027.8L181.7 1027.9L179.6 1028.1L177.6 1028.2L175.6 1028.3L173.6 1028.4L171.6 1028.4L169.6 1028.4L167.6 1028.4L165.6 1028.4L163.6 1028.3L161.7 1028.1L159.7 1027.9L157.8 1027.6L155.9 1027.3L154.0 1026.9L152.1 1026.4" fill="none" stroke="#333333" stroke-width="1.7" stroke-linejoin="round"/>
<path d="M153.4 1044.5L153.1 1042.5L152.9 1040.5L152.8 1038.4L152.8 1036.2L152.9 1034.1L153.1 1032.0L153.4 1030.0L153.9 1028.0L154.4 1026.1L155.2 1024.2L156.0 1022.5L157.1 1020.9L158.3 1019.5L159.7 1018.2L161.2 1017.1L162.9 1016.1L164.6 1015.2L166.5 1014.4L168.4 1013.7L170.3 1013.1L172.2 1012.5L174.2 1012.0L176.2 1011.6L178.2 1011.2L180.1 1010.8L182.1 1010.5L184.1 1010.2L186.1 1010.0L188.1 1009.8L190.1 1009.6L192.2 1009.5L194.2 1009.4L196.2 1009.3L198.2 1009.2L200.2 1009.1L202.3 1009.1L204.3 1009.0L206.3 1009.0L208.3 1009.0L210.4 1009.0L212.4 1009.0L214.4 1008.9L216.4 1008.9L218.5 1008.9L220.5 1008.9L222.5 1008.9L224.5 1008.9L226.6 1008.9L228.6 1008.9L230.6 1008.9L232.6 1008.9L234.6 1008.9L236.6 1008.9L238.7 1008.9L240.7 1008.9L242.7 1008.9L244.7 1008.9L246.7 1008.9L248.7 1008.9L250.8 1008.9L252.8 1008.9L254.8 1008.9L256.8 1009.0L258.8 1009.0L260.8 1009.0L262.8 1009.0L264.9 1009.0L266.9 1009.0L268.9 1009.0L270.9 1009.0L272.9 1009.1L274.9 1009.1L276.9 1009.1L279.0 1009.1L281.0 1009.1L283.0 1009.1L285.0 1009.1L287.0 1009.1L289.0 1009.2L291.0 1009.2L293.0 1009.2L295.1 1009.2L297.1 1009.2L299.1 1009.2L301.1 1009.2L303.1 1009.2L305.1 1009.2L307.1 1009.2L309.2 1009.2L311.2 1009.2L313.2 1009.2L315.2 1009.2L317.2 1009.2L319.2 1009.2L321.2 1009.2L323.3 1009.2L325.3 1009.2L327.3 1009.2L329.3 1009.2L331.3 1009.2L333.3 1009.2L335.4 1009.2L337.4 1009.2L339.4 1009.2L341.4 1009.1L343.4 1009.1L345.4 1009.1L347.5 1009.1L349.5 1009.1L351.5 1009.1L353.5 1009.0L355.5 1009.0L357.5 1009.0L359.5 1009.0L361.6 1008.9L363.6 1008.9L365.6 1008.9L367.6 1008.9L369.6 1008.8L371.6 1008.8L373.7 1008.7L375.7 1008.7L377.7 1008.7L379.7 1008.6L381.7 1008.6L383.7 1008.5L385.8 1008.5L387.8 1008.4L389.8 1008.4L391.8 1008.3L393.8 1008.3L395.8 1008.2L397.8 1008.2L399.9 1008.1L401.9 1008.1L403.9 1008.0L405.9 1007.9L407.9 1007.9L409.9 1007.8L412.0 1007.7L414.0 1007.6L416.0 1007.6L418.0 1007.5L420.0 1007.4L422.0 1007.3L424.0 1007.2L426.1 1007.2L428.1 1007.1L430.1 1007.0L432.1 1006.9L434.1 1006.8L436.1 1006.7L438.1 1006.6L440.1 1006.5L442.2 1006.4L444.2 1006.3L446.2 1006.2L448.2 1006.0L450.2 1005.9L452.2 1005.8L454.2 1005.7L456.2 1005.6L458.3 1005.4L460.3 1005.3L462.3 1005.2L464.3 1005.1L466.3 1004.9L468.3 1004.8L470.3 1004.6L472.3 1004.5L474.3 1004.3L476.4 1004.2L478.4 1004.0L480.4 1003.9L482.4 1003.7L484.4 1003.6L486.4 1003.4L488.4 1003.9L489.9 1005.0L491.0 1006.4L491.7 1008.2L492.0 1010.1L491.9 1012.2L491.6 1014.3L490.9 1016.3L490.0 1018.1L488.9 1019.8L487.6 1021.3L486.2 1022.7L484.6 1023.9L482.9 1025.1L481.2 1026.1L479.4 1027.0L477.6 1027.8L475.7 1028.5L473.8 1029.1L471.9 1029.7L469.9 1030.1L468.0 1030.5L466.0 1030.8L464.0 1031.1L461.9 1031.3L459.9 1031.5L457.9 1031.7L455.8 1031.8L453.8 1031.9L451.7 1032.0L449.7 1032.0L447.7 1032.1L445.6 1032.1L443.6 1032.2L441.6 1032.2L439.6 1032.2L437.6 1032.2L435.5 1032.2L433.5 1032.2L431.5 1032.2L429.5 1032.3L427.5 1032.3L425.5 1032.3L423.5 1032.3L421.4 1032.3L419.4 1032.4L417.4 1032.4L415.4 1032.4L413.4 1032.4L411.4 1032.5L409.4 1032.5L407.3 1032.5L405.3 1032.6L403.3 1032.6L401.3 1032.7L399.3 1032.7L397.3 1032.7L395.2 1032.8L393.2 1032.8L391.2 1032.9L389.2 1032.9L387.2 1033.0L385.2 1033.0L383.1 1033.1L381.1 1033.1L379.1 1033.2L377.1 1033.2L375.1 1033.3L373.1 1033.3L371.0 1033.4L369.0 1033.4L367.0 1033.5L365.0 1033.5L363.0 1033.6L360.9 1033.6L358.9 1033.7L356.9 1033.7L354.9 1033.8L352.9 1033.8L350.8 1033.9L348.8 1033.9L346.8 1034.0L344.8 1034.0L342.8 1034.1L340.7 1034.1L338.7 1034.2L336.7 1034.2L334.7 1034.3L332.7 1034.3L330.6 1034.3L328.6 1034.4L326.6 1034.4L324.6 1034.5L322.6 1034.5L320.5 1034.5L318.5 1034.6L316.5 1034.6L314.5 1034.6L312.5 1034.7L310.4 1034.7L308.4 1034.7L306.4 1034.8L304.4 1034.8L302.4 1034.8L300.3 1034.8L298.3 1034.9L296.3 1034.9L294.3 1034.9L292.3 1035.0L290.2 1035.0L288.2 1035.1L286.2 1035.1L284.2 1035.1L282.2 1035.2L280.1 1035.2L278.1 1035.2L276.1 1035.3L274.1 1035.3L272.1 1035.4L270.0 1035.4L268.0 1035.5L266.0 1035.5L264.0 1035.6L262.0 1035.6L259.9 1035.7L257.9 1035.8L255.9 1035.8L253.9 1035.9L251.9 1036.0L249.8 1036.0L247.8 1036.1L245.8 1036.2L243.8 1036.3L241.8 1036.3L239.8 1036.4L237.7 1036.5L235.7 1036.6L233.7 1036.7L231.7 1036.8L229.7 1036.9L227.7 1037.0L225.7 1037.1L223.6 1037.2L221.6 1037.4L219.6 1037.5L217.6 1037.6L215.6 1037.7L213.6 1037.9L211.6 1038.0L209.6 1038.2L207.5 1038.3L205.5 1038.5L203.5 1038.6L201.5 1038.8L199.5 1039.0L197.5 1039.1L195.5 1039.3L193.5 1039.5L191.5 1039.7L189.5 1039.9L187.4 1040.1L185.4 1040.3L183.4 1040.5L181.4 1040.7L179.4 1041.0L177.4 1041.2L175.4 1041.4L173.4 1041.7L171.4 1041.9L169.4 1042.2L167.4 1042.4L165.4 1042.7L163.4 1043.0L161.4 1043.3L159.4 1043.6L157.4 1043.9L155.4 1044.2L153.4 1044.5" fill="none" stroke="#e03c3c" stroke-width="1.7" stroke-linejoin="round"/>
<path d="M152.1 1069.6L152.2 1067.6L152.3 1065.6L152.4 1063.6L152.4 1061.6L152.4 1059.6L152.4 1057.6L152.4 1055.6L152.4 1053.6L152.4 1051.6L152.4 1049.5L152.3 1047.5L152.3 1045.5L152.3 1043.4L152.3 1041.3L152.3 1039.2L152.4 1037.1L152.5 1035.0L152.6 1033.0L152.9 1030.9L153.2 1028.9L153.6 1027.0L154.2 1025.0L154.9 1023.2L155.7 1021.4L156.6 1019.6L157.6 1017.9L158.7 1016.3L159.9 1014.7L161.2 1013.2L162.6 1011.8L164.0 1010.4L165.5 1009.1L167.1 1007.8L168.7 1006.6L170.4 1005.4L172.1 1004.3L173.9 1003.3L175.7 1002.4L177.5 1001.5L179.3 1000.6L181.2 999.9L183.0 999.2L184.9 998.5L186.8 997.9L188.7 997.4L190.7 996.9L192.6 996.5L194.6 996.0L196.6 995.7L198.6 995.4L200.6 995.1L202.6 994.8L204.6 994.6L206.6 994.4L208.6 994.2L210.7 994.1L212.7 993.9L214.7 993.8L216.8 993.7L218.8 993.7L220.9 993.6L222.9 993.5L224.9 993.4L227.0 993.4L229.0 993.3L231.0 993.3L233.1 993.2L235.1 993.2L237.1 993.1L239.2 993.1L241.2 993.1L243.2 993.0L245.2 993.0L247.3 993.0L249.3 992.9L251.3 992.9L253.3 992.9L255.3 992.9L257.3 992.8L259.4 992.8L261.4 992.8L263.4 992.8L265.4 992.8L267.4 992.8L269.4 992.8L271.4 992.7L273.4 992.7L275.5 992.7L277.5 992.7L279.5 992.7L281.5 992.7L283.5 992.7L285.5 992.7L287.5 992.7L289.6 992.7L291.6 992.8L293.6 992.8L295.6 992.8L297.6 992.8L299.6 992.8L301.7 992.8L303.7 992.8L305.7 992.8L307.7 992.8L309.7 992.8L311.7 992.9L313.8 992.9L315.8 992.9L317.8 992.9L319.8 992.9L321.8 992.9L323.9 992.9L325.9 992.9L327.9 992.9L329.9 992.9L332.0 993.0L334.0 993.0L336.0 993.0L338.0 993.0L340.0 993.0L342.1 993.0L344.1 993.0L346.1 993.0L348.1 993.0L350.1 993.0L352.2 993.0L354.2 993.0L356.2 992.9L358.2 992.9L360.3 992.9L362.3 992.9L364.3 992.9L366.3 992.9L368.3 992.8L370.4 992.8L372.4 992.8L374.4 992.8L376.4 992.7L378.5 992.7L380.5 992.7L382.5 992.6L384.5 992.6L386.5 992.5L388.6 992.5L390.6 992.4L392.6 992.4L394.6 992.3L396.6 992.2L398.7 992.2L400.7 992.1L402.7 992.0L404.7 991.9L406.7 991.9L408.8 991.8L410.8 991.7L412.8 991.6L414.8 991.5L416.8 991.4L418.8 991.3L420.9 991.1L422.9 991.0L424.9 990.9L426.9 990.8L428.9 990.6L430.9 990.5L433.0 990.4L435.0 990.2L437.0 990.1L439.0 989.9L441.0 989.7L443.0 989.6L445.0 989.4L447.0 989.2L449.0 989.0L451.1 988.8L453.1 988.6L455.1 988.4L457.1 988.2L459.1 988.0L461.1 987.7L463.1 987.5L465.1 987.3L467.1 987.0L469.1 986.8L471.1 986.5L473.1 986.2L475.1 986.0L477.1 985.7L479.1 985.4L481.1 985.1L483.1 984.8L485.1 984.5L487.1 984.2L489.1 983.8L491.1 983.5L491.2 985.4L491.4 987.3L491.6 989.2L491.7 991.3L491.9 993.3L492.0 995.4L492.2 997.5L492.2 999.6L492.3 1001.7L492.3 1003.8L492.2 1005.9L492.1 1008.0L491.9 1010.1L491.6 1012.2L491.3 1014.2L490.8 1016.1L490.2 1018.1L489.6 1019.9L488.9 1021.7L488.0 1023.4L487.0 1025.1L486.0 1026.7L484.8 1028.2L483.5 1029.6L482.1 1030.9L480.6 1032.1L479.1 1033.3L477.5 1034.4L475.8 1035.4L474.0 1036.4L472.2 1037.2L470.4 1038.0L468.5 1038.7L466.6 1039.4L464.7 1040.0L462.7 1040.5L460.7 1041.0L458.8 1041.4L456.8 1041.7L454.8 1042.0L452.7 1042.3L450.7 1042.5L448.7 1042.8L446.7 1043.0L444.6 1043.1L442.6 1043.3L440.6 1043.5L438.5 1043.6L436.5 1043.8L434.5 1043.9L432.4 1044.1L430.4 1044.2L428.4 1044.4L426.4 1044.5L424.3 1044.7L422.3 1044.8L420.3 1044.9L418.3 1045.1L416.3 1045.2L414.2 1045.3L412.2 1045.5L410.2 1045.6L408.2 1045.7L406.2 1045.9L404.2 1046.0L402.2 1046.1L400.1 1046.2L398.1 1046.3L396.1 1046.5L394.1 1046.6L392.1 1046.7L390.1 1046.8L388.1 1046.9L386.1 1047.0L384.1 1047.1L382.1 1047.2L380.1 1047.4L378.0 1047.5L376.0 1047.6L374.0 1047.7L372.0 1047.8L370.0 1047.9L368.0 1048.0L366.0 1048.1L364.0 1048.2L362.0 1048.3L360.0 1048.4L358.0 1048.5L356.0 1048.6L354.0 1048.7L352.0 1048.9L350.0 1049.0L348.0 1049.1L346.0 1049.2L343.9 1049.3L341.9 1049.4L339.9 1049.5L337.9 1049.6L335.9 1049.7L333.9 1049.9L331.9 1050.0L329.9 1050.1L327.9 1050.2L325.9 1050.3L323.9 1050.4L321.8 1050.5L319.8 1050.7L317.8 1050.8L315.8 1050.9L313.8 1051.0L311.8 1051.1L309.8 1051.3L307.8 1051.4L305.8 1051.5L303.7 1051.6L301.7 1051.8L299.7 1051.9L297.7 1052.0L295.7 1052.1L293.7 1052.3L291.7 1052.4L289.7 1052.5L287.6 1052.6L285.6 1052.8L283.6 1052.9L281.6 1053.0L279.6 1053.2L277.6 1053.3L275.6 1053.4L273.5 1053.6L271.5 1053.7L269.5 1053.8L267.5 1054.0L265.5 1054.1L263.5 1054.2L261.5 1054.4L259.5 1054.5L257.4 1054.6L255.4 1054.8L253.4 1054.9L251.4 1055.0L249.4 1055.2L247.4 1055.3L245.4 1055.5L243.3 1055.6L241.3 1055.7L239.3 1055.9L237.3 1056.0L235.3 1056.2L233.3 1056.3L231.3 1056.4L229.3 1056.6L227.3 1056.7L225.2 1056.9L223.2 1057.0L221.2 1057.2L219.2 1057.3L217.2 1057.5L215.2 1057.6L213.2 1057.8L211.2 1058.0L209.2 1058.2L207.2 1058.4L205.2 1058.6L203.2 1058.8L201.2 1059.0L199.2 1059.2L197.2 1059.4L195.2 1059.7L193.2 1059.9L191.2 1060.2L189.2 1060.5L187.2 1060.8L185.3 1061.1L183.3 1061.5L181.3 1061.8L179.3 1062.2L177.4 1062.6L175.4 1063.0L173.4 1063.4L171.5 1063.9L169.5 1064.3L167.6 1064.8L165.6 1065.3L163.7 1065.9L161.7 1066.4L159.8 1067.0L157.9 1067.6L155.9 1068.2L154.0 1068.9L152.1 1069.6" fill="none" stroke="#3434cc" stroke-width="1.7" stroke-linejoin="round"/>
<path d="M152.1 1175.3L152.1 1173.3L152.2 1171.3L152.2 1169.3L152.3 1167.2L152.3 1165.2L152.4 1163.2L152.4 1161.2L152.5 1159.2L152.5 1157.2L152.6 1155.2L152.7 1153.2L152.7 1151.1L152.8 1149.1L152.8 1147.1L152.9 1145.1L153.0 1143.1L153.0 1141.1L153.1 1139.1L153.2 1137.1L153.2 1135.1L153.3 1133.0L153.4 1131.0L153.5 1129.0L153.5 1127.0L153.6 1125.0L153.7 1123.0L153.8 1121.0L153.9 1119.0L154.0 1117.0L154.0 1115.0L154.1 1113.0L154.2 1111.0L154.3 1109.0L154.4 1107.0L154.5 1105.0L154.6 1102.9L154.7 1100.9L154.8 1098.9L155.0 1096.9L155.1 1094.9L155.2 1092.9L155.3 1090.9L155.4 1088.9L155.6 1086.9L155.7 1084.9L155.8 1082.9L155.9 1080.9L156.1 1078.9L156.2 1076.9L156.4 1074.9L156.5 1072.9L156.6 1070.9L156.8 1068.9L157.0 1066.9L157.1 1064.9L157.3 1062.9L157.4 1060.9L157.6 1058.9L157.8 1056.8L157.9 1054.8L158.1 1052.8L158.3 1050.8L158.5 1048.8L158.7 1046.8L158.9 1044.8L159.0 1042.8L159.2 1040.8L159.4 1038.8L159.6 1036.8L159.9 1034.8L160.1 1032.8L160.3 1030.8L160.5 1028.8L160.7 1026.8L161.0 1024.8L161.2 1022.8L161.4 1020.8L161.7 1018.8L161.9 1016.8L162.2 1014.8L162.5 1012.8L162.8 1010.8L163.1 1008.8L163.4 1006.8L163.8 1004.8L164.1 1002.9L164.5 1000.9L164.9 998.9L165.3 996.9L165.7 995.0L166.2 993.0L166.7 991.1L167.2 989.1L167.7 987.2L168.2 985.3L168.8 983.4L169.4 981.4L170.0 979.5L170.7 977.6L171.4 975.7L172.1 973.9L172.8 972.0L173.6 970.1L174.5 968.3L175.3 966.4L176.2 964.6L177.1 962.8L178.1 961.1L179.1 959.3L180.2 957.6L181.3 955.9L182.4 954.3L183.6 952.6L184.9 951.0L186.1 949.5L187.5 948.0L188.8 946.5L190.3 945.1L191.7 943.7L193.2 942.3L194.7 941.0L196.3 939.8L197.9 938.6L199.5 937.4L201.2 936.4L202.9 935.3L204.6 934.3L206.3 933.4L208.1 932.5L209.9 931.7L211.7 930.9L213.5 930.2L215.3 929.5L217.2 928.8L219.0 928.2L220.9 927.6L222.9 927.1L224.8 926.6L226.7 926.1L228.7 925.6L230.6 925.2L232.6 924.9L234.6 924.5L236.6 924.2L238.6 923.9L240.6 923.6L242.6 923.4L244.7 923.1L246.7 922.9L248.7 922.7L250.8 922.5L252.8 922.4L254.9 922.2L256.9 922.1L258.9 921.9L261.0 921.8L263.0 921.7L265.1 921.6L267.1 921.5L269.1 921.4L271.1 921.3L273.2 921.2L275.2 921.1L277.2 921.0L279.2 920.9L281.2 920.9L283.2 920.8L285.3 920.7L287.3 920.6L289.3 920.6L291.3 920.5L293.3 920.5L295.3 920.4L297.3 920.4L299.3 920.3L301.3 920.3L303.3 920.2L305.3 920.2L307.3 920.1L309.2 920.1L311.2 920.1L313.2 920.1L315.2 920.0L317.2 920.0L319.2 920.0L321.2 920.0L323.2 919.9L325.2 919.9L327.2 919.9L329.2 919.9L331.2 919.9L333.2 919.9L335.2 919.9L337.2 919.8L339.2 919.8L341.2 919.8L343.2 919.8L345.2 919.8L347.2 919.8L349.2 919.8L351.2 919.8L353.3 919.8L355.3 919.8L357.3 919.8L359.3 919.8L361.3 919.8L363.3 919.7L365.4 919.7L367.4 919.7L369.4 919.7L371.4 919.7L373.4 919.6L375.5 919.6L377.5 919.6L379.5 919.5L381.5 919.5L383.5 919.4L385.6 919.4L387.6 919.3L389.6 919.2L391.6 919.2L393.6 919.1L395.7 919.0L397.7 918.9L399.7 918.8L401.7 918.7L403.7 918.6L405.7 918.5L407.7 918.3L409.7 918.2L411.8 918.1L413.8 917.9L415.8 917.7L417.8 917.6L419.8 917.4L421.8 917.2L423.8 917.0L425.8 916.8L427.7 916.6L429.7 916.3L431.7 916.1L433.7 915.9L435.7 915.6L437.7 915.3L439.7 915.1L441.7 914.8L443.6 914.5L445.6 914.2L447.6 913.9L449.6 913.6L451.6 913.3L453.5 913.0L455.5 912.6L457.5 912.3L459.5 911.9L461.4 911.6L463.4 911.2L465.4 910.9L467.4 910.5L469.4 910.2L471.3 909.8L473.3 909.4L475.3 909.0L477.3 908.6L479.2 908.2L481.2 907.8L483.2 907.4L485.2 907.0L487.1 906.6L489.1 906.2L491.1 905.8L491.1 907.8L491.1 909.8L491.1 911.8L491.1 913.8L491.1 915.8L491.1 917.8L491.1 919.9L491.1 921.9L491.1 923.9L491.1 925.9L491.1 927.9L491.1 929.9L491.1 931.9L491.1 933.9L491.1 936.0L491.1 938.0L491.0 940.0L491.0 942.0L491.0 944.0L491.0 946.0L490.9 948.0L490.9 950.0L490.8 952.1L490.8 954.1L490.7 956.1L490.6 958.1L490.6 960.1L490.5 962.1L490.4 964.1L490.3 966.1L490.2 968.1L490.1 970.1L490.0 972.2L489.9 974.2L489.7 976.2L489.6 978.2L489.5 980.2L489.3 982.2L489.1 984.2L489.0 986.2L488.8 988.2L488.6 990.2L488.4 992.2L488.2 994.2L488.0 996.2L487.7 998.2L487.5 1000.2L487.2 1002.1L487.0 1004.1L486.7 1006.1L486.4 1008.1L486.1 1010.1L485.8 1012.1L485.5 1014.1L485.1 1016.0L484.8 1018.0L484.4 1020.0L484.1 1022.0L483.7 1023.9L483.3 1025.9L482.8 1027.9L482.4 1029.8L482.0 1031.8L481.5 1033.8L481.0 1035.7L480.5 1037.7L480.0 1039.6L479.5 1041.6L478.9 1043.5L478.3 1045.4L477.7 1047.4L477.1 1049.3L476.4 1051.2L475.7 1053.1L475.0 1055.0L474.2 1056.8L473.5 1058.7L472.6 1060.6L471.8 1062.4L470.9 1064.2L470.0 1066.0L469.0 1067.8L468.0 1069.5L466.9 1071.2L465.8 1072.9L464.7 1074.6L463.5 1076.2L462.2 1077.7L460.9 1079.2L459.6 1080.7L458.2 1082.1L456.7 1083.5L455.2 1084.8L453.7 1086.1L452.1 1087.3L450.5 1088.4L448.9 1089.5L447.2 1090.6L445.5 1091.6L443.7 1092.5L441.9 1093.3L440.1 1094.1L438.3 1094.9L436.4 1095.5L434.6 1096.2L432.7 1096.8L430.7 1097.4L428.8 1097.9L426.9 1098.4L424.9 1098.9L422.9 1099.3L420.9 1099.8L419.0 1100.2L417.0 1100.6L415.0 1101.0L413.0 1101.4L411.0 1101.8L409.0 1102.2L407.0 1102.6L405.0 1103.0L403.0 1103.4L401.1 1103.8L399.1 1104.3L397.1 1104.7L395.1 1105.1L393.1 1105.5L391.2 1105.9L389.2 1106.3L387.2 1106.8L385.2 1107.2L383.3 1107.6L381.3 1108.0L379.3 1108.4L377.3 1108.9L375.4 1109.3L373.4 1109.7L371.4 1110.2L369.5 1110.6L367.5 1111.0L365.5 1111.5L363.6 1111.9L361.6 1112.3L359.7 1112.8L357.7 1113.2L355.7 1113.7L353.8 1114.1L351.8 1114.6L349.9 1115.0L347.9 1115.5L345.9 1115.9L344.0 1116.4L342.0 1116.8L340.1 1117.3L338.1 1117.7L336.2 1118.2L334.2 1118.7L332.3 1119.1L330.3 1119.6L328.4 1120.0L326.4 1120.5L324.5 1121.0L322.5 1121.5L320.6 1121.9L318.6 1122.4L316.7 1122.9L314.7 1123.4L312.8 1123.8L310.8 1124.3L308.9 1124.8L306.9 1125.3L305.0 1125.8L303.0 1126.3L301.1 1126.7L299.1 1127.2L297.2 1127.7L295.2 1128.2L293.3 1128.7L291.4 1129.2L289.4 1129.7L287.5 1130.2L285.5 1130.7L283.6 1131.2L281.6 1131.7L279.7 1132.2L277.7 1132.8L275.8 1133.3L273.9 1133.8L271.9 1134.3L270.0 1134.8L268.0 1135.3L266.1 1135.9L264.1 1136.4L262.2 1136.9L260.2 1137.4L258.3 1138.0L256.4 1138.5L254.4 1139.0L252.5 1139.6L250.5 1140.1L248.6 1140.7L246.6 1141.2L244.7 1141.8L242.8 1142.3L240.8 1142.9L238.9 1143.5L237.0 1144.0L235.0 1144.6L233.1 1145.2L231.2 1145.8L229.3 1146.4L227.3 1147.0L225.4 1147.6L223.5 1148.2L221.6 1148.9L219.7 1149.5L217.8 1150.1L215.9 1150.8L214.0 1151.4L212.1 1152.1L210.2 1152.8L208.3 1153.4L206.4 1154.1L204.5 1154.8L202.6 1155.5L200.8 1156.2L198.9 1157.0L197.0 1157.7L195.1 1158.4L193.3 1159.1L191.4 1159.9L189.5 1160.6L187.7 1161.4L185.8 1162.1L184.0 1162.8L182.1 1163.6L180.2 1164.3L178.4 1165.1L176.5 1165.8L174.6 1166.6L172.8 1167.3L170.9 1168.1L169.0 1168.8L167.2 1169.6L165.3 1170.3L163.4 1171.0L161.5 1171.8L159.7 1172.5L157.8 1173.2L155.9 1173.9L154.0 1174.6L152.1 1175.3" fill="none" stroke="#ee30ee" stroke-width="1.7" stroke-linejoin="round"/>
<path d="M108.90 872.5H534.90M108.90 1213.7H534.90" stroke="#474747" stroke-width="2" fill="none"/>
<path d="M110 871.5V1214.7M533.8 871.5V1214.7" stroke="#262626" stroke-width="2.1" fill="none"/>
<path d="M102.50 893.83H110M102.50 936.48H110M102.50 979.12H110M102.50 1021.78H110M102.50 1064.42H110M102.50 1107.08H110M102.50 1149.72H110M102.50 1192.38H110M105.50 872.50H110M105.50 915.15H110M105.50 957.80H110M105.50 1000.45H110M105.50 1043.10H110M105.50 1085.75H110M105.50 1128.40H110M105.50 1171.05H110M105.50 1213.70H110" stroke="#474747" stroke-width="2" fill="none"/>
<path d="M152.38 1213.7V1221.20M237.14 1213.7V1221.20M321.90 1213.7V1221.20M406.66 1213.7V1221.20M491.42 1213.7V1221.20M110.00 1213.7V1218.20M194.76 1213.7V1218.20M279.52 1213.7V1218.20M364.28 1213.7V1218.20M449.04 1213.7V1218.20M533.80 1213.7V1218.20" stroke="#262626" stroke-width="2" fill="none"/>
<text transform="translate(97.60,900.43) scale(1,1.04)" font-size="19" text-anchor="end" fill="#111">6x10<tspan font-size="10" dy="-9.6" dx="0.8">-4</tspan></text>
<text transform="translate(97.60,943.08) scale(1,1.04)" font-size="19" text-anchor="end" fill="#111">4x10<tspan font-size="10" dy="-9.6" dx="0.8">-4</tspan></text>
<text transform="translate(97.60,985.73) scale(1,1.04)" font-size="19" text-anchor="end" fill="#111">2x10<tspan font-size="10" dy="-9.6" dx="0.8">-4</tspan></text>
<text transform="translate(98.70,1026.98) scale(1,1.04)" font-size="19" text-anchor="end" fill="#111">0</text>
<text transform="translate(97.60,1071.02) scale(1,1.04)" font-size="19" text-anchor="end" fill="#111">-2x10<tspan font-size="10" dy="-9.6" dx="0.8">-4</tspan></text>
<text transform="translate(97.60,1113.67) scale(1,1.04)" font-size="19" text-anchor="end" fill="#111">-4x10<tspan font-size="10" dy="-9.6" dx="0.8">-4</tspan></text>
<text transform="translate(97.60,1156.32) scale(1,1.04)" font-size="19" text-anchor="end" fill="#111">-6x10<tspan font-size="10" dy="-9.6" dx="0.8">-4</tspan></text>
<text transform="translate(97.60,1198.97) scale(1,1.04)" font-size="19" text-anchor="end" fill="#111">-8x10<tspan font-size="10" dy="-9.6" dx="0.8">-4</tspan></text>
<text transform="translate(152.38,1240.50) scale(1,1.04)" font-size="19" text-anchor="middle" fill="#111">-0.4</text>
<text transform="translate(237.14,1240.50) scale(1,1.04)" font-size="19" text-anchor="middle" fill="#111">-0.2</text>
<text transform="translate(321.90,1240.50) scale(1,1.04)" font-size="19" text-anchor="middle" fill="#111">0.0</text>
<text transform="translate(406.66,1240.50) scale(1,1.04)" font-size="19" text-anchor="middle" fill="#111">0.2</text>
<text transform="translate(491.42,1240.50) scale(1,1.04)" font-size="19" text-anchor="middle" fill="#111">0.4</text>
<text transform="translate(321.90,1274.70) scale(0.99,1)" font-size="22.5" text-anchor="middle" fill="#111">Potential (V vs SCE)</text>
<text transform="translate(20.80,1155.60) rotate(-90)" font-size="22.5" fill="#111">Current density (A/cm<tspan font-size="13.3" dy="-10.7">2</tspan><tspan dy="10.7" dx="2.2">)</tspan></text>
<text transform="translate(116.30,902.70) scale(1.04,1)" font-size="28.5" fill="#111">(d)</text>
<text transform="translate(192.32,1179.40) scale(0.9885,1)" font-size="18" fill="#111">Texturing time: 0 min</text>
<text transform="translate(191.35,1201.20) scale(0.9870,1)" font-size="18" fill="#111">Film thickness: 296 nm</text>
<line x1="397.10" y1="1124.30" x2="440.70" y2="1124.30" stroke="#333333" stroke-width="2.3"/>
<text x="446.00" y="1131.20" font-size="19.3" fill="#111">0.005 V/s</text>
<line x1="397.10" y1="1148.60" x2="440.70" y2="1148.60" stroke="#e03c3c" stroke-width="2.3"/>
<text x="446.00" y="1155.50" font-size="19.3" fill="#111">0.02 V/s</text>
<line x1="397.10" y1="1172.90" x2="440.70" y2="1172.90" stroke="#3434cc" stroke-width="2.3"/>
<text x="446.00" y="1179.80" font-size="19.3" fill="#111">0.05 V/s</text>
<line x1="397.10" y1="1197.20" x2="440.70" y2="1197.20" stroke="#ee30ee" stroke-width="2.3"/>
<text x="446.00" y="1204.10" font-size="19.3" fill="#111">0.2 V/s</text>
<path d="M743.9 1015.3L745.4 1014.1L746.9 1013.0L748.6 1012.1L750.3 1011.3L752.1 1010.6L753.9 1010.0L755.8 1009.5L757.8 1009.1L759.8 1008.8L761.8 1008.6L763.9 1008.3L765.9 1008.1L768.0 1008.0L770.0 1007.8L772.1 1007.7L774.1 1007.5L776.2 1007.4L778.2 1007.3L780.2 1007.2L782.3 1007.0L784.3 1006.9L786.3 1006.9L788.3 1006.8L790.4 1006.7L792.4 1006.6L794.4 1006.5L796.4 1006.5L798.4 1006.4L800.5 1006.4L802.5 1006.3L804.5 1006.2L806.5 1006.2L808.5 1006.2L810.5 1006.1L812.6 1006.1L814.6 1006.0L816.6 1006.0L818.6 1006.0L820.6 1005.9L822.7 1005.9L824.7 1005.9L826.7 1005.8L828.7 1005.8L830.7 1005.8L832.8 1005.7L834.8 1005.7L836.8 1005.7L838.8 1005.7L840.8 1005.6L842.9 1005.6L844.9 1005.6L846.9 1005.6L848.9 1005.6L850.9 1005.6L853.0 1005.5L855.0 1005.5L857.0 1005.5L859.0 1005.5L861.1 1005.5L863.1 1005.5L865.1 1005.5L867.1 1005.5L869.2 1005.5L871.2 1005.5L873.2 1005.5L875.2 1005.5L877.2 1005.4L879.3 1005.4L881.3 1005.4L883.3 1005.4L885.3 1005.4L887.4 1005.4L889.4 1005.4L891.4 1005.4L893.4 1005.4L895.5 1005.4L897.5 1005.4L899.5 1005.4L901.5 1005.4L903.6 1005.4L905.6 1005.4L907.6 1005.4L909.6 1005.4L911.6 1005.4L913.7 1005.4L915.7 1005.4L917.7 1005.4L919.7 1005.4L921.8 1005.4L923.8 1005.4L925.8 1005.4L927.8 1005.4L929.8 1005.4L931.9 1005.4L933.9 1005.4L935.9 1005.4L937.9 1005.4L940.0 1005.4L942.0 1005.4L944.0 1005.4L946.0 1005.4L948.1 1005.4L950.1 1005.4L952.1 1005.4L954.1 1005.4L956.1 1005.4L958.2 1005.4L960.2 1005.4L962.2 1005.4L964.2 1005.4L966.3 1005.4L968.3 1005.4L970.3 1005.4L972.3 1005.4L974.3 1005.4L976.4 1005.4L978.4 1005.4L980.4 1005.4L982.4 1005.4L984.5 1005.4L986.5 1005.4L988.5 1005.4L990.5 1005.4L992.5 1005.4L994.6 1005.4L996.6 1005.3L998.6 1005.3L1000.6 1005.3L1002.6 1005.3L1004.7 1005.3L1006.7 1005.3L1008.7 1005.3L1010.7 1005.3L1012.8 1005.3L1014.8 1005.3L1016.8 1005.3L1018.8 1005.3L1020.8 1005.2L1022.9 1005.2L1024.9 1005.2L1026.9 1005.2L1028.9 1005.2L1031.0 1005.2L1033.0 1005.2L1035.0 1005.2L1037.0 1005.1L1039.0 1005.1L1041.1 1005.1L1043.1 1005.1L1045.1 1005.1L1047.1 1005.1L1049.2 1005.0L1051.2 1005.0L1053.2 1005.0L1055.2 1005.0L1057.2 1005.0L1059.3 1004.9L1061.3 1004.9L1063.3 1004.9L1065.3 1004.9L1067.4 1004.9L1069.4 1004.8L1071.4 1004.8L1073.4 1004.8L1075.5 1004.8L1077.5 1004.7L1079.5 1004.7L1080.9 1006.6L1081.2 1008.1L1080.6 1009.3L1079.4 1010.2L1077.8 1010.7L1076.0 1010.9L1073.9 1011.0L1071.6 1011.0L1069.3 1010.9L1067.0 1010.7L1064.8 1010.7L1062.7 1010.6L1060.6 1010.6L1058.5 1010.6L1056.4 1010.6L1054.4 1010.6L1052.4 1010.6L1050.5 1010.7L1048.5 1010.7L1046.6 1010.7L1044.6 1010.8L1042.6 1010.8L1040.7 1010.9L1038.7 1010.9L1036.7 1011.0L1034.7 1011.0L1032.7 1011.0L1030.7 1011.1L1028.7 1011.1L1026.7 1011.1L1024.7 1011.2L1022.7 1011.2L1020.7 1011.2L1018.7 1011.2L1016.6 1011.3L1014.6 1011.3L1012.6 1011.3L1010.6 1011.3L1008.6 1011.3L1006.5 1011.4L1004.5 1011.4L1002.5 1011.4L1000.5 1011.4L998.4 1011.4L996.4 1011.4L994.4 1011.5L992.4 1011.5L990.4 1011.5L988.4 1011.5L986.3 1011.5L984.3 1011.5L982.3 1011.5L980.3 1011.6L978.3 1011.6L976.3 1011.6L974.3 1011.6L972.2 1011.6L970.2 1011.6L968.2 1011.6L966.2 1011.6L964.2 1011.6L962.2 1011.7L960.2 1011.7L958.2 1011.7L956.2 1011.7L954.1 1011.7L952.1 1011.7L950.1 1011.7L948.1 1011.7L946.1 1011.7L944.1 1011.7L942.1 1011.7L940.1 1011.8L938.1 1011.8L936.1 1011.8L934.1 1011.8L932.0 1011.8L930.0 1011.8L928.0 1011.8L926.0 1011.8L924.0 1011.8L922.0 1011.8L920.0 1011.8L918.0 1011.8L916.0 1011.9L914.0 1011.9L912.0 1011.9L909.9 1011.9L907.9 1011.9L905.9 1011.9L903.9 1011.9L901.9 1011.9L899.9 1011.9L897.9 1011.9L895.9 1011.9L893.8 1011.9L891.8 1012.0L889.8 1012.0L887.8 1012.0L885.8 1012.0L883.8 1012.0L881.8 1012.0L879.8 1012.0L877.7 1012.0L875.7 1012.1L873.7 1012.1L871.7 1012.1L869.7 1012.1L867.7 1012.1L865.6 1012.2L863.6 1012.2L861.6 1012.2L859.6 1012.2L857.6 1012.3L855.6 1012.3L853.6 1012.3L851.5 1012.4L849.5 1012.4L847.5 1012.5L845.5 1012.5L843.5 1012.5L841.5 1012.6L839.5 1012.6L837.5 1012.7L835.5 1012.7L833.4 1012.8L831.4 1012.8L829.4 1012.9L827.4 1013.0L825.4 1013.0L823.4 1013.1L821.4 1013.2L819.4 1013.3L817.4 1013.3L815.4 1013.4L813.4 1013.5L811.4 1013.6L809.4 1013.7L807.3 1013.8L805.3 1013.9L803.3 1014.0L801.3 1014.1L799.3 1014.2L797.3 1014.3L795.3 1014.5L793.3 1014.6L791.3 1014.7L789.3 1014.9L787.3 1015.1L785.3 1015.3L783.3 1015.5L781.3 1015.7L779.3 1015.9L777.3 1016.1L775.3 1016.4L773.3 1016.7L771.3 1017.0L769.2 1017.3L767.2 1017.6L765.2 1017.9L763.2 1018.3L761.2 1018.6L759.2 1018.9L757.2 1019.2L755.2 1019.4L753.2 1019.6L751.3 1019.7L749.3 1019.6L747.5 1019.4L745.8 1018.8L744.6 1017.5L743.9 1015.3" fill="none" stroke="#333333" stroke-width="1.7" stroke-linejoin="round"/>
<path d="M744.2 1036.7L744.0 1034.7L743.8 1032.7L743.7 1030.7L743.6 1028.6L743.6 1026.5L743.7 1024.5L743.9 1022.4L744.2 1020.4L744.6 1018.4L745.2 1016.5L745.9 1014.6L746.8 1012.9L747.8 1011.2L749.0 1009.6L750.3 1008.2L751.8 1006.8L753.4 1005.6L755.0 1004.5L756.8 1003.5L758.5 1002.5L760.3 1001.7L762.1 1001.0L764.0 1000.3L765.9 999.8L767.8 999.3L769.7 998.9L771.7 998.5L773.6 998.2L775.6 997.9L777.6 997.7L779.6 997.5L781.6 997.4L783.7 997.2L785.7 997.1L787.7 997.0L789.8 996.9L791.8 996.9L793.8 996.8L795.9 996.7L797.9 996.6L799.9 996.6L801.9 996.5L804.0 996.5L806.0 996.4L808.0 996.4L810.0 996.3L812.0 996.3L814.1 996.2L816.1 996.2L818.1 996.2L820.1 996.2L822.1 996.1L824.1 996.1L826.2 996.1L828.2 996.1L830.2 996.1L832.2 996.1L834.2 996.0L836.2 996.0L838.2 996.0L840.2 996.0L842.3 996.0L844.3 996.0L846.3 996.0L848.3 996.0L850.3 996.0L852.3 996.1L854.3 996.1L856.3 996.1L858.3 996.1L860.3 996.1L862.3 996.1L864.3 996.1L866.3 996.1L868.3 996.1L870.4 996.2L872.4 996.2L874.4 996.2L876.4 996.2L878.4 996.2L880.4 996.2L882.4 996.2L884.4 996.3L886.4 996.3L888.4 996.3L890.4 996.3L892.4 996.3L894.4 996.3L896.4 996.3L898.5 996.3L900.5 996.3L902.5 996.3L904.5 996.3L906.5 996.3L908.5 996.4L910.5 996.4L912.5 996.4L914.5 996.4L916.5 996.4L918.6 996.4L920.6 996.4L922.6 996.4L924.6 996.4L926.6 996.4L928.6 996.4L930.6 996.4L932.6 996.4L934.7 996.4L936.7 996.4L938.7 996.4L940.7 996.4L942.7 996.4L944.7 996.4L946.7 996.4L948.7 996.3L950.7 996.3L952.8 996.3L954.8 996.3L956.8 996.3L958.8 996.3L960.8 996.3L962.8 996.3L964.8 996.3L966.9 996.3L968.9 996.3L970.9 996.2L972.9 996.2L974.9 996.2L976.9 996.2L978.9 996.2L980.9 996.2L983.0 996.1L985.0 996.1L987.0 996.1L989.0 996.1L991.0 996.1L993.0 996.1L995.0 996.0L997.1 996.0L999.1 996.0L1001.1 996.0L1003.1 995.9L1005.1 995.9L1007.1 995.9L1009.1 995.9L1011.1 995.9L1013.2 995.8L1015.2 995.8L1017.2 995.8L1019.2 995.7L1021.2 995.7L1023.2 995.7L1025.2 995.7L1027.2 995.6L1029.3 995.6L1031.3 995.6L1033.3 995.5L1035.3 995.5L1037.3 995.5L1039.3 995.4L1041.3 995.4L1043.3 995.4L1045.3 995.3L1047.4 995.3L1049.4 995.2L1051.4 995.2L1053.4 995.2L1055.4 995.1L1057.4 995.1L1059.4 995.0L1061.4 995.0L1063.4 995.0L1065.4 994.9L1067.5 994.9L1069.5 994.8L1071.5 994.8L1073.5 994.7L1075.5 994.7L1077.5 994.6L1079.5 994.6L1080.6 996.4L1081.5 998.4L1082.1 1000.4L1082.5 1002.5L1082.6 1004.7L1082.5 1006.7L1082.1 1008.7L1081.5 1010.5L1080.7 1012.1L1079.5 1013.4L1078.2 1014.4L1076.6 1015.2L1074.8 1015.8L1072.9 1016.3L1070.9 1016.6L1068.9 1016.8L1066.8 1017.0L1064.7 1017.2L1062.6 1017.3L1060.5 1017.5L1058.5 1017.6L1056.4 1017.7L1054.4 1017.8L1052.3 1017.9L1050.3 1018.0L1048.2 1018.1L1046.2 1018.2L1044.2 1018.2L1042.1 1018.3L1040.1 1018.4L1038.1 1018.4L1036.1 1018.5L1034.0 1018.5L1032.0 1018.5L1030.0 1018.6L1028.0 1018.6L1026.0 1018.7L1024.0 1018.7L1021.9 1018.7L1019.9 1018.8L1017.9 1018.8L1015.9 1018.8L1013.9 1018.9L1011.9 1018.9L1009.9 1018.9L1007.8 1019.0L1005.8 1019.0L1003.8 1019.1L1001.8 1019.1L999.8 1019.2L997.8 1019.2L995.7 1019.2L993.7 1019.3L991.7 1019.3L989.7 1019.4L987.7 1019.4L985.7 1019.5L983.6 1019.5L981.6 1019.6L979.6 1019.6L977.6 1019.6L975.6 1019.7L973.5 1019.7L971.5 1019.8L969.5 1019.8L967.5 1019.9L965.5 1019.9L963.4 1020.0L961.4 1020.0L959.4 1020.1L957.4 1020.1L955.4 1020.2L953.3 1020.2L951.3 1020.3L949.3 1020.3L947.3 1020.3L945.3 1020.4L943.2 1020.4L941.2 1020.5L939.2 1020.5L937.2 1020.6L935.1 1020.6L933.1 1020.6L931.1 1020.7L929.1 1020.7L927.1 1020.8L925.0 1020.8L923.0 1020.8L921.0 1020.9L919.0 1020.9L916.9 1021.0L914.9 1021.0L912.9 1021.0L910.9 1021.1L908.8 1021.1L906.8 1021.1L904.8 1021.2L902.8 1021.2L900.7 1021.3L898.7 1021.3L896.7 1021.3L894.7 1021.4L892.6 1021.4L890.6 1021.5L888.6 1021.5L886.6 1021.6L884.6 1021.6L882.5 1021.7L880.5 1021.7L878.5 1021.8L876.5 1021.8L874.4 1021.9L872.4 1022.0L870.4 1022.0L868.4 1022.1L866.3 1022.2L864.3 1022.2L862.3 1022.3L860.3 1022.4L858.3 1022.5L856.2 1022.6L854.2 1022.6L852.2 1022.7L850.2 1022.8L848.2 1022.9L846.2 1023.0L844.1 1023.2L842.1 1023.3L840.1 1023.4L838.1 1023.5L836.1 1023.6L834.1 1023.8L832.0 1023.9L830.0 1024.0L828.0 1024.2L826.0 1024.3L824.0 1024.5L822.0 1024.7L820.0 1024.8L818.0 1025.0L815.9 1025.2L813.9 1025.4L811.9 1025.6L809.9 1025.8L807.9 1026.0L805.9 1026.2L803.9 1026.4L801.9 1026.6L799.9 1026.9L797.9 1027.1L795.9 1027.4L793.9 1027.6L791.9 1027.9L789.9 1028.1L787.9 1028.4L785.9 1028.7L783.9 1029.0L781.9 1029.3L779.9 1029.6L777.9 1029.9L775.9 1030.3L773.9 1030.6L771.9 1030.9L770.0 1031.3L768.0 1031.6L766.0 1032.0L764.0 1032.4L762.0 1032.8L760.0 1033.2L758.0 1033.6L756.1 1034.0L754.1 1034.4L752.1 1034.9L750.1 1035.3L748.1 1035.8L746.2 1036.2L744.2 1036.7" fill="none" stroke="#e03c3c" stroke-width="1.7" stroke-linejoin="round"/>
<path d="M743.5 1064.7L743.7 1062.7L743.8 1060.8L743.9 1058.8L743.9 1056.8L743.9 1054.8L743.9 1052.8L743.9 1050.8L743.9 1048.8L743.8 1046.8L743.8 1044.8L743.7 1042.7L743.7 1040.7L743.6 1038.6L743.6 1036.6L743.6 1034.5L743.6 1032.4L743.6 1030.3L743.7 1028.2L743.8 1026.1L743.9 1024.0L744.1 1022.0L744.4 1019.9L744.7 1017.9L745.1 1015.9L745.6 1013.9L746.1 1012.0L746.8 1010.2L747.5 1008.4L748.4 1006.6L749.3 1004.9L750.3 1003.3L751.5 1001.7L752.7 1000.1L754.0 998.7L755.3 997.3L756.8 995.9L758.3 994.6L759.8 993.4L761.4 992.2L763.1 991.1L764.8 990.0L766.6 989.0L768.4 988.1L770.2 987.2L772.0 986.3L773.9 985.6L775.8 984.8L777.7 984.2L779.6 983.6L781.6 983.0L783.5 982.5L785.5 982.1L787.4 981.7L789.4 981.3L791.4 981.0L793.4 980.7L795.4 980.5L797.4 980.3L799.4 980.1L801.4 980.0L803.4 979.8L805.4 979.7L807.4 979.7L809.5 979.6L811.5 979.6L813.5 979.6L815.6 979.6L817.6 979.6L819.7 979.6L821.7 979.6L823.7 979.7L825.8 979.7L827.8 979.7L829.8 979.7L831.9 979.8L833.9 979.8L835.9 979.8L837.9 979.8L840.0 979.8L842.0 979.8L844.0 979.9L846.0 979.9L848.0 979.9L850.1 979.9L852.1 979.9L854.1 979.9L856.1 979.9L858.1 979.9L860.1 979.9L862.1 979.9L864.2 979.9L866.2 979.9L868.2 979.9L870.2 979.9L872.2 979.9L874.2 979.9L876.2 979.9L878.2 979.9L880.2 979.9L882.3 979.9L884.3 979.8L886.3 979.8L888.3 979.8L890.3 979.8L892.3 979.8L894.3 979.8L896.3 979.8L898.4 979.8L900.4 979.8L902.4 979.8L904.4 979.8L906.4 979.8L908.4 979.8L910.4 979.8L912.5 979.8L914.5 979.8L916.5 979.8L918.5 979.8L920.5 979.8L922.5 979.8L924.6 979.8L926.6 979.8L928.6 979.8L930.6 979.8L932.6 979.8L934.6 979.8L936.7 979.8L938.7 979.8L940.7 979.8L942.7 979.8L944.7 979.8L946.8 979.8L948.8 979.8L950.8 979.8L952.8 979.8L954.8 979.8L956.8 979.8L958.9 979.8L960.9 979.7L962.9 979.7L964.9 979.7L966.9 979.7L969.0 979.7L971.0 979.7L973.0 979.7L975.0 979.6L977.0 979.6L979.1 979.6L981.1 979.6L983.1 979.6L985.1 979.5L987.1 979.5L989.1 979.5L991.2 979.5L993.2 979.4L995.2 979.4L997.2 979.4L999.2 979.3L1001.3 979.3L1003.3 979.3L1005.3 979.2L1007.3 979.2L1009.3 979.2L1011.4 979.1L1013.4 979.1L1015.4 979.0L1017.4 979.0L1019.4 979.0L1021.4 978.9L1023.5 978.9L1025.5 978.8L1027.5 978.7L1029.5 978.7L1031.5 978.6L1033.6 978.6L1035.6 978.5L1037.6 978.5L1039.6 978.4L1041.6 978.3L1043.6 978.2L1045.7 978.2L1047.7 978.1L1049.7 978.0L1051.7 977.9L1053.7 977.9L1055.7 977.8L1057.7 977.7L1059.8 977.6L1061.8 977.5L1063.8 977.4L1065.8 977.3L1067.8 977.2L1069.8 977.1L1071.8 977.0L1073.9 976.9L1075.9 976.8L1077.9 976.7L1079.9 976.6L1081.9 976.5L1082.2 978.6L1082.5 980.6L1082.6 982.6L1082.7 984.5L1082.8 986.5L1082.8 988.4L1082.8 990.4L1082.8 992.4L1082.7 994.3L1082.7 996.3L1082.6 998.4L1082.6 1000.4L1082.5 1002.6L1082.5 1004.7L1082.4 1006.8L1082.2 1009.0L1082.0 1011.0L1081.7 1013.1L1081.3 1015.1L1080.8 1017.0L1080.1 1018.8L1079.3 1020.4L1078.2 1022.0L1077.0 1023.4L1075.6 1024.6L1074.1 1025.8L1072.4 1026.8L1070.7 1027.7L1068.8 1028.4L1066.9 1029.1L1064.9 1029.6L1062.9 1030.0L1060.8 1030.4L1058.8 1030.6L1056.7 1030.8L1054.6 1031.0L1052.6 1031.2L1050.6 1031.4L1048.5 1031.5L1046.5 1031.6L1044.5 1031.8L1042.5 1031.9L1040.5 1032.0L1038.5 1032.2L1036.5 1032.3L1034.5 1032.4L1032.5 1032.5L1030.5 1032.6L1028.5 1032.8L1026.4 1032.9L1024.4 1033.0L1022.4 1033.1L1020.4 1033.2L1018.4 1033.4L1016.4 1033.5L1014.4 1033.6L1012.4 1033.7L1010.4 1033.8L1008.4 1033.9L1006.4 1034.0L1004.3 1034.1L1002.3 1034.3L1000.3 1034.4L998.3 1034.5L996.3 1034.6L994.3 1034.7L992.3 1034.8L990.3 1034.9L988.2 1035.0L986.2 1035.1L984.2 1035.2L982.2 1035.3L980.2 1035.4L978.2 1035.5L976.2 1035.6L974.1 1035.7L972.1 1035.8L970.1 1035.9L968.1 1036.0L966.1 1036.1L964.1 1036.2L962.1 1036.3L960.0 1036.4L958.0 1036.5L956.0 1036.6L954.0 1036.7L952.0 1036.7L950.0 1036.8L947.9 1036.9L945.9 1037.0L943.9 1037.1L941.9 1037.2L939.9 1037.3L937.9 1037.4L935.9 1037.4L933.8 1037.5L931.8 1037.6L929.8 1037.7L927.8 1037.8L925.8 1037.9L923.8 1038.0L921.8 1038.0L919.7 1038.1L917.7 1038.2L915.7 1038.3L913.7 1038.4L911.7 1038.5L909.7 1038.6L907.7 1038.7L905.6 1038.7L903.6 1038.8L901.6 1038.9L899.6 1039.0L897.6 1039.1L895.6 1039.2L893.6 1039.3L891.6 1039.4L889.5 1039.5L887.5 1039.6L885.5 1039.7L883.5 1039.8L881.5 1040.0L879.5 1040.1L877.5 1040.2L875.5 1040.3L873.5 1040.4L871.4 1040.5L869.4 1040.7L867.4 1040.8L865.4 1040.9L863.4 1041.1L861.4 1041.2L859.4 1041.4L857.4 1041.5L855.4 1041.6L853.3 1041.8L851.3 1042.0L849.3 1042.1L847.3 1042.3L845.3 1042.4L843.3 1042.6L841.3 1042.8L839.3 1043.0L837.3 1043.2L835.3 1043.4L833.3 1043.5L831.3 1043.7L829.2 1043.9L827.2 1044.2L825.2 1044.4L823.2 1044.6L821.2 1044.8L819.2 1045.0L817.2 1045.3L815.2 1045.5L813.2 1045.8L811.2 1046.1L809.2 1046.3L807.2 1046.6L805.2 1046.9L803.2 1047.2L801.2 1047.5L799.3 1047.9L797.3 1048.2L795.3 1048.6L793.3 1048.9L791.3 1049.3L789.4 1049.7L787.4 1050.1L785.4 1050.5L783.5 1051.0L781.5 1051.4L779.6 1051.9L777.6 1052.4L775.7 1052.9L773.7 1053.4L771.8 1054.0L769.9 1054.5L768.0 1055.1L766.0 1055.7L764.1 1056.4L762.2 1057.0L760.3 1057.7L758.4 1058.3L756.5 1059.1L754.7 1059.8L752.8 1060.6L750.9 1061.3L749.0 1062.1L747.2 1063.0L745.3 1063.8L743.5 1064.7" fill="none" stroke="#3434cc" stroke-width="1.7" stroke-linejoin="round"/>
<path d="M744.2 1174.2L744.2 1172.2L744.2 1170.2L744.2 1168.2L744.2 1166.1L744.2 1164.1L744.2 1162.1L744.3 1160.1L744.3 1158.1L744.3 1156.1L744.3 1154.1L744.3 1152.0L744.3 1150.0L744.3 1148.0L744.3 1146.0L744.3 1144.0L744.3 1142.0L744.4 1140.0L744.4 1138.0L744.4 1135.9L744.4 1133.9L744.4 1131.9L744.4 1129.9L744.4 1127.9L744.5 1125.9L744.5 1123.9L744.5 1121.9L744.5 1119.9L744.5 1117.9L744.6 1115.8L744.6 1113.8L744.6 1111.8L744.6 1109.8L744.7 1107.8L744.7 1105.8L744.7 1103.8L744.8 1101.8L744.8 1099.8L744.9 1097.8L744.9 1095.8L744.9 1093.7L745.0 1091.7L745.0 1089.7L745.1 1087.7L745.1 1085.7L745.2 1083.7L745.2 1081.7L745.3 1079.7L745.4 1077.7L745.4 1075.7L745.5 1073.7L745.5 1071.6L745.6 1069.6L745.7 1067.6L745.8 1065.6L745.8 1063.6L745.9 1061.6L746.0 1059.6L746.1 1057.6L746.2 1055.6L746.3 1053.6L746.4 1051.6L746.5 1049.6L746.6 1047.5L746.7 1045.5L746.8 1043.5L746.9 1041.5L747.0 1039.5L747.1 1037.5L747.3 1035.5L747.4 1033.5L747.5 1031.5L747.6 1029.5L747.8 1027.5L747.9 1025.4L748.1 1023.4L748.2 1021.4L748.4 1019.4L748.5 1017.4L748.7 1015.4L748.9 1013.4L749.0 1011.4L749.2 1009.4L749.4 1007.4L749.6 1005.4L749.9 1003.4L750.1 1001.4L750.3 999.4L750.6 997.4L750.9 995.4L751.2 993.4L751.5 991.4L751.8 989.4L752.1 987.4L752.4 985.5L752.8 983.5L753.2 981.5L753.6 979.5L754.0 977.6L754.5 975.6L754.9 973.6L755.4 971.7L755.9 969.7L756.5 967.8L757.0 965.9L757.6 963.9L758.2 962.0L758.8 960.1L759.5 958.1L760.2 956.2L760.9 954.3L761.7 952.4L762.4 950.6L763.3 948.7L764.1 946.8L765.0 945.0L765.9 943.2L766.9 941.5L767.9 939.7L768.9 938.0L770.0 936.3L771.2 934.7L772.4 933.1L773.6 931.5L774.9 930.0L776.2 928.6L777.6 927.2L779.0 925.8L780.5 924.5L782.0 923.2L783.6 922.0L785.2 920.8L786.8 919.7L788.5 918.7L790.2 917.7L791.9 916.7L793.7 915.8L795.5 915.0L797.3 914.2L799.1 913.5L801.0 912.8L802.9 912.2L804.8 911.7L806.8 911.2L808.7 910.7L810.7 910.3L812.7 909.9L814.7 909.6L816.7 909.3L818.7 909.0L820.7 908.8L822.7 908.6L824.8 908.4L826.8 908.2L828.8 908.0L830.9 907.9L832.9 907.8L834.9 907.7L836.9 907.6L839.0 907.5L841.0 907.5L843.0 907.4L845.0 907.4L847.0 907.3L849.0 907.3L851.1 907.3L853.1 907.3L855.1 907.3L857.1 907.3L859.1 907.3L861.1 907.3L863.1 907.3L865.1 907.3L867.1 907.3L869.1 907.3L871.2 907.3L873.2 907.3L875.2 907.3L877.2 907.3L879.2 907.3L881.2 907.3L883.2 907.3L885.2 907.3L887.2 907.3L889.3 907.3L891.3 907.3L893.3 907.3L895.3 907.3L897.3 907.3L899.3 907.3L901.3 907.2L903.3 907.2L905.3 907.2L907.4 907.2L909.4 907.2L911.4 907.1L913.4 907.1L915.4 907.1L917.4 907.0L919.4 907.0L921.4 907.0L923.4 906.9L925.4 906.9L927.5 906.8L929.5 906.8L931.5 906.7L933.5 906.7L935.5 906.6L937.5 906.6L939.5 906.5L941.5 906.4L943.5 906.4L945.5 906.3L947.6 906.2L949.6 906.1L951.6 906.1L953.6 906.0L955.6 905.9L957.6 905.8L959.6 905.7L961.6 905.6L963.6 905.5L965.6 905.4L967.6 905.3L969.6 905.2L971.7 905.1L973.7 905.0L975.7 904.8L977.7 904.7L979.7 904.6L981.7 904.5L983.7 904.3L985.7 904.2L987.7 904.1L989.7 903.9L991.7 903.8L993.7 903.7L995.7 903.5L997.7 903.4L999.7 903.2L1001.7 903.1L1003.8 902.9L1005.8 902.8L1007.8 902.6L1009.8 902.5L1011.8 902.3L1013.8 902.1L1015.8 902.0L1017.8 901.8L1019.8 901.7L1021.8 901.5L1023.8 901.3L1025.8 901.2L1027.8 901.0L1029.8 900.8L1031.8 900.6L1033.8 900.5L1035.8 900.3L1037.8 900.1L1039.8 899.9L1041.8 899.8L1043.8 899.6L1045.8 899.4L1047.8 899.2L1049.9 899.0L1051.9 898.9L1053.9 898.7L1055.9 898.5L1057.9 898.3L1059.9 898.1L1061.9 897.9L1063.9 897.8L1065.9 897.6L1067.9 897.4L1069.9 897.2L1071.9 897.0L1073.9 896.8L1075.9 896.7L1077.9 896.5L1079.9 896.3L1081.9 896.1L1082.0 898.1L1082.0 900.1L1082.1 902.1L1082.1 904.2L1082.2 906.2L1082.2 908.2L1082.3 910.2L1082.3 912.2L1082.3 914.2L1082.4 916.2L1082.4 918.2L1082.4 920.2L1082.4 922.2L1082.4 924.2L1082.4 926.2L1082.4 928.3L1082.4 930.3L1082.4 932.3L1082.4 934.3L1082.4 936.3L1082.4 938.3L1082.4 940.3L1082.3 942.3L1082.3 944.3L1082.3 946.3L1082.2 948.3L1082.2 950.3L1082.2 952.3L1082.1 954.3L1082.1 956.3L1082.0 958.3L1082.0 960.3L1081.9 962.3L1081.9 964.3L1081.8 966.3L1081.8 968.3L1081.7 970.3L1081.7 972.3L1081.6 974.3L1081.5 976.3L1081.5 978.3L1081.4 980.3L1081.3 982.3L1081.3 984.3L1081.2 986.4L1081.1 988.4L1081.1 990.4L1081.0 992.4L1080.9 994.4L1080.9 996.4L1080.8 998.4L1080.7 1000.4L1080.7 1002.4L1080.6 1004.5L1080.5 1006.5L1080.5 1008.5L1080.4 1010.5L1080.3 1012.5L1080.2 1014.5L1080.2 1016.6L1080.1 1018.6L1080.0 1020.6L1079.9 1022.6L1079.7 1024.6L1079.6 1026.6L1079.4 1028.6L1079.3 1030.6L1079.1 1032.6L1078.9 1034.6L1078.7 1036.6L1078.4 1038.6L1078.1 1040.6L1077.8 1042.5L1077.5 1044.5L1077.2 1046.5L1076.8 1048.4L1076.4 1050.4L1075.9 1052.3L1075.4 1054.3L1074.9 1056.2L1074.4 1058.1L1073.8 1060.0L1073.1 1061.9L1072.4 1063.8L1071.7 1065.7L1070.9 1067.6L1070.1 1069.4L1069.2 1071.2L1068.3 1073.0L1067.3 1074.7L1066.1 1076.3L1064.9 1077.8L1063.6 1079.2L1062.2 1080.5L1060.6 1081.7L1059.0 1082.8L1057.3 1083.8L1055.5 1084.7L1053.6 1085.5L1051.7 1086.2L1049.8 1086.9L1047.8 1087.5L1045.9 1088.1L1043.9 1088.6L1041.9 1089.1L1039.9 1089.6L1038.0 1090.0L1036.0 1090.4L1034.0 1090.7L1032.0 1091.1L1030.0 1091.4L1028.0 1091.7L1026.0 1092.0L1024.0 1092.3L1022.0 1092.6L1020.1 1092.8L1018.1 1093.1L1016.1 1093.3L1014.1 1093.6L1012.1 1093.8L1010.1 1094.1L1008.1 1094.4L1006.1 1094.6L1004.1 1094.9L1002.1 1095.2L1000.2 1095.5L998.2 1095.7L996.2 1096.0L994.2 1096.3L992.2 1096.6L990.2 1096.9L988.2 1097.2L986.3 1097.5L984.3 1097.8L982.3 1098.1L980.3 1098.4L978.3 1098.8L976.4 1099.1L974.4 1099.4L972.4 1099.7L970.4 1100.0L968.4 1100.4L966.5 1100.7L964.5 1101.0L962.5 1101.4L960.5 1101.7L958.6 1102.1L956.6 1102.4L954.6 1102.8L952.6 1103.1L950.7 1103.5L948.7 1103.8L946.7 1104.2L944.7 1104.6L942.8 1104.9L940.8 1105.3L938.8 1105.7L936.9 1106.1L934.9 1106.4L932.9 1106.8L931.0 1107.2L929.0 1107.6L927.0 1108.0L925.0 1108.4L923.1 1108.8L921.1 1109.2L919.2 1109.6L917.2 1110.0L915.2 1110.4L913.3 1110.8L911.3 1111.2L909.3 1111.6L907.4 1112.0L905.4 1112.4L903.4 1112.9L901.5 1113.3L899.5 1113.7L897.6 1114.1L895.6 1114.6L893.6 1115.0L891.7 1115.4L889.7 1115.9L887.7 1116.3L885.8 1116.8L883.8 1117.2L881.9 1117.6L879.9 1118.1L878.0 1118.5L876.0 1119.0L874.0 1119.5L872.1 1119.9L870.1 1120.4L868.2 1120.8L866.2 1121.3L864.3 1121.8L862.3 1122.2L860.3 1122.7L858.4 1123.2L856.4 1123.6L854.5 1124.1L852.5 1124.6L850.6 1125.1L848.6 1125.6L846.7 1126.1L844.7 1126.5L842.8 1127.0L840.8 1127.5L838.9 1128.1L836.9 1128.6L835.0 1129.1L833.0 1129.6L831.1 1130.2L829.2 1130.7L827.2 1131.3L825.3 1131.8L823.4 1132.4L821.5 1133.0L819.6 1133.6L817.7 1134.2L815.7 1134.8L813.8 1135.4L812.0 1136.1L810.1 1136.7L808.2 1137.4L806.3 1138.1L804.4 1138.8L802.6 1139.5L800.7 1140.2L798.8 1141.0L797.0 1141.7L795.1 1142.5L793.3 1143.3L791.5 1144.1L789.7 1144.9L787.9 1145.8L786.1 1146.7L784.3 1147.6L782.5 1148.5L780.7 1149.4L778.9 1150.4L777.2 1151.3L775.4 1152.3L773.7 1153.3L771.9 1154.3L770.2 1155.4L768.5 1156.4L766.8 1157.5L765.1 1158.6L763.4 1159.7L761.8 1160.8L760.1 1162.0L758.5 1163.1L756.8 1164.3L755.2 1165.5L753.6 1166.7L752.0 1167.9L750.4 1169.1L748.8 1170.4L747.3 1171.6L745.7 1172.9L744.2 1174.2" fill="none" stroke="#ee30ee" stroke-width="1.7" stroke-linejoin="round"/>
<path d="M699.90 872.3H1126.10M699.90 1213.7H1126.10" stroke="#474747" stroke-width="2" fill="none"/>
<path d="M701 871.3V1214.7M1125 871.3V1214.7" stroke="#262626" stroke-width="2.1" fill="none"/>
<path d="M693.50 872.30H701M693.50 940.58H701M693.50 1008.86H701M693.50 1077.14H701M693.50 1145.42H701M693.50 1213.70H701M696.50 906.44H701M696.50 974.72H701M696.50 1043.00H701M696.50 1111.28H701M696.50 1179.56H701" stroke="#474747" stroke-width="2" fill="none"/>
<path d="M743.40 1213.7V1221.20M828.20 1213.7V1221.20M913.00 1213.7V1221.20M997.80 1213.7V1221.20M1082.60 1213.7V1221.20M701.00 1213.7V1218.20M785.80 1213.7V1218.20M870.60 1213.7V1218.20M955.40 1213.7V1218.20M1040.20 1213.7V1218.20M1125.00 1213.7V1218.20" stroke="#262626" stroke-width="2" fill="none"/>
<text transform="translate(688.60,878.90) scale(1,1.04)" font-size="19" text-anchor="end" fill="#111">1x10<tspan font-size="10" dy="-9.6" dx="0.8">-3</tspan></text>
<text transform="translate(688.60,947.18) scale(1,1.04)" font-size="19" text-anchor="end" fill="#111">5x10<tspan font-size="10" dy="-9.6" dx="0.8">-4</tspan></text>
<text transform="translate(689.70,1014.06) scale(1,1.04)" font-size="19" text-anchor="end" fill="#111">0</text>
<text transform="translate(688.60,1083.74) scale(1,1.04)" font-size="19" text-anchor="end" fill="#111">-5x10<tspan font-size="10" dy="-9.6" dx="0.8">-4</tspan></text>
<text transform="translate(688.60,1152.02) scale(1,1.04)" font-size="19" text-anchor="end" fill="#111">-1x10<tspan font-size="10" dy="-9.6" dx="0.8">-3</tspan></text>
<text transform="translate(688.60,1220.30) scale(1,1.04)" font-size="19" text-anchor="end" fill="#111">-2x10<tspan font-size="10" dy="-9.6" dx="0.8">-3</tspan></text>
<text transform="translate(743.40,1240.50) scale(1,1.04)" font-size="19" text-anchor="middle" fill="#111">-0.4</text>
<text transform="translate(828.20,1240.50) scale(1,1.04)" font-size="19" text-anchor="middle" fill="#111">-0.2</text>
<text transform="translate(913.00,1240.50) scale(1,1.04)" font-size="19" text-anchor="middle" fill="#111">0.0</text>
<text transform="translate(997.80,1240.50) scale(1,1.04)" font-size="19" text-anchor="middle" fill="#111">0.2</text>
<text transform="translate(1082.60,1240.50) scale(1,1.04)" font-size="19" text-anchor="middle" fill="#111">0.4</text>
<text transform="translate(913.00,1274.70) scale(0.99,1)" font-size="22.5" text-anchor="middle" fill="#111">Potential (V vs SCE)</text>
<text transform="translate(611.80,1155.60) rotate(-90)" font-size="22.5" fill="#111">Current density (A/cm<tspan font-size="13.3" dy="-10.7">2</tspan><tspan dy="10.7" dx="2.2">)</tspan></text>
<text transform="translate(707.30,902.50) scale(1.04,1)" font-size="28.5" fill="#111">(e)</text>
<text transform="translate(779.12,1173.70) scale(0.9918,1)" font-size="18" fill="#111">Texturing time: 20 min</text>
<text transform="translate(778.14,1195.80) scale(0.9916,1)" font-size="18" fill="#111">Film thickness: 296 nm</text>
<line x1="988.30" y1="1124.30" x2="1031.90" y2="1124.30" stroke="#333333" stroke-width="2.3"/>
<text x="1037.20" y="1131.20" font-size="19.3" fill="#111">0.005 V/s</text>
<line x1="988.30" y1="1148.60" x2="1031.90" y2="1148.60" stroke="#e03c3c" stroke-width="2.3"/>
<text x="1037.20" y="1155.50" font-size="19.3" fill="#111">0.02 V/s</text>
<line x1="988.30" y1="1172.90" x2="1031.90" y2="1172.90" stroke="#3434cc" stroke-width="2.3"/>
<text x="1037.20" y="1179.80" font-size="19.3" fill="#111">0.05 V/s</text>
<line x1="988.30" y1="1197.20" x2="1031.90" y2="1197.20" stroke="#ee30ee" stroke-width="2.3"/>
<text x="1037.20" y="1204.10" font-size="19.3" fill="#111">0.2 V/s</text>
</svg>
</body></html>
